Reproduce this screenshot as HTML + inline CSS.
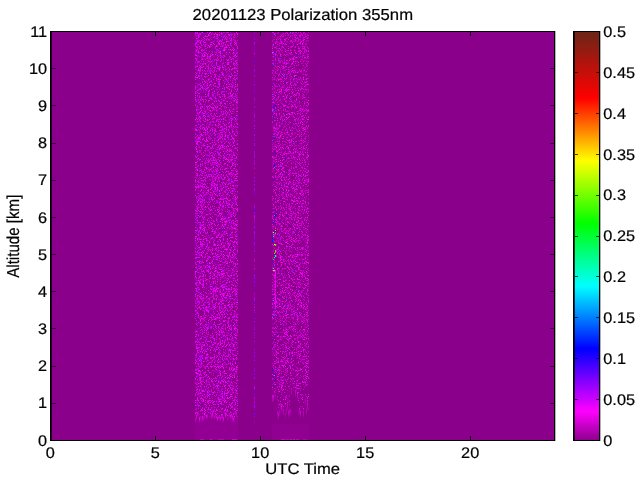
<!DOCTYPE html>
<html>
<head>
<meta charset="utf-8">
<title>20201123 Polarization 355nm</title>
<style>
html,body{margin:0;padding:0;background:#fff;}
body{width:640px;height:480px;overflow:hidden;font-family:"Liberation Sans",sans-serif;}
svg{display:block;}
</style>
</head>
<body>
<svg width="640" height="480" viewBox="0 0 640 480">
<rect width="640" height="480" fill="#fff"/>
<defs><linearGradient id="cb" x1="0" y1="0" x2="0" y2="1"><stop offset="0.00%" stop-color="#692618"/><stop offset="16.40%" stop-color="#ff0000"/><stop offset="31.68%" stop-color="#ffff00"/><stop offset="46.96%" stop-color="#00ff00"/><stop offset="62.24%" stop-color="#00ffff"/><stop offset="77.52%" stop-color="#0000ff"/><stop offset="92.80%" stop-color="#ff00ff"/><stop offset="100.00%" stop-color="#8b008b"/></linearGradient></defs>
<rect x="50" y="31" width="505" height="410" fill="#8b008b"/>
<defs><linearGradient id="sm" x1="0" y1="0" x2="0" y2="1"><stop offset="0" stop-color="#e000e8" stop-opacity="0.75"/><stop offset="1" stop-color="#e000e8" stop-opacity="0"/></linearGradient></defs>
<rect x="195" y="420" width="43" height="20" fill="#a000a4" opacity="0.35"/>
<rect x="272" y="424" width="37" height="16" fill="#a000a4" opacity="0.25"/>
<g transform="translate(0,0.5)" stroke-width="1" fill="none" shape-rendering="crispEdges"><path stroke="#0005ff" d="M274 52h1m0 53h1m-1 48h1m-4 85h1m25 75h1m-27 33h1m-1 22h1"/><path stroke="#0019ff" d="M282 75h1m-10 31h1m11 53h1m-12 5h1m-2 58h1m-2 18h1m-1 130h1"/><path stroke="#002dff" d="M297 55h1m-26 40h1m18 4h1m-19 38h1m-1 3h1m1 71h1m-2 5h1m-3 25h1m12 71h1m-5 14h1"/><path stroke="#0041ff" d="M275 99h1m-2 22h1m17 4h1m-1 190h1m-21 23h1"/><path stroke="#0055ff" d="M279 61h1m13 172h1m-21 7h1m19 30h1m-14 5h1m18 15h1m-26 18h1"/><path stroke="#0069ff" d="M273 45h1m10 29h1m-11 37h1m18 32h1m-7 164h1"/><path stroke="#007dff" d="M274 34h1m-2 30h1m10 51h1m-13 1h1m1 20h1m6 30h1m-1 19h1m-8 80h1m0 49h1m-1 70h1"/><path stroke="#0092ff" d="M290 32h1m-19 78h1m-1 207h1"/><path stroke="#00a6ff" d="M294 76h1m-21 91h1m-2 133h1"/><path stroke="#00baff" d="M272 52h1m1 163h1m-2 19h1m0 141h1"/><path stroke="#00e2ff" d="M273 236h1"/><path stroke="#00f6ff" d="M275 255h1"/><path stroke="#00ff04" d="M275 245h1"/><path stroke="#00ff68" d="M275 233h1"/><path stroke="#00ff7c" d="M275 256h1"/><path stroke="#00ff90" d="M275 250h1"/><path stroke="#00ffb8" d="M274 257h1"/><path stroke="#00ffcc" d="M273 268h1"/><path stroke="#0f00ff" d="M274 165h1m0 50h1m-1 8h1m-1 8h1m21 32h1m-8 11h1m-16 105h1"/><path stroke="#2300ff" d="M288 357h1"/><path stroke="#24ff00" d="M275 252h1m-3 7h1"/><path stroke="#3700ff" d="M274 57h1m9 26h1m-12 24h1m0 1h1m-1 124h1m0 26h1m-4 5h1m3 42h1m-5 5h1m4 24h1m11 30h1m-16 17h1"/><path stroke="#4b00ff" d="M254 58h1m-1 46h1m-1 32h1m-1 10h1m31 28h1m-33 36h1m-1 1h1m-1 29h1m17 56h1m-19 7h1m-1 13h1m21 57h1m-23 2h1m-1 17h1m35 5h1m-37 18h1"/><path stroke="#4cff00" d="M275 244h1m-2 26h1"/><path stroke="#5f00ff" d="M254 36h1m-1 27h1m18 19h1m-20 8h1m-1 3h1m19 12h1m-3 7h1m-19 9h1m-1 9h1m17 48h1m-19 4h1m-1 42h1m-1 6h1m-1 49h1m-1 5h1m-1 6h1m-1 25h1m18 10h1m-20 17h1m19 29h1m-3 6h1m-19 2h1m-1 14h1m-1 11h1m-1 9h1"/><path stroke="#60ff00" d="M275 230h1"/><path stroke="#7300ff" d="M254 48h1m-1 13h1m-1 11h1m-1 10h1m-1 3h1m-1 34h1m-1 34h1m-1 25h1m-1 14h1m-1 37h1m-1 8h1m-1 4h1m-1 13h1m-1 20h1m-1 22h1m-1 6h1m-1 6h1m-1 26h1m-1 6h1m-1 10h1m-1 7h1m-1 6h1m-1 1h1"/><path stroke="#8700ff" d="M254 32h1m-52 1h2m17 2h1m-1 2h1m31 1h1m-55 2h1m31 0h1m-19 1h1m-20 1h1m16 2h1m41 0h1m-1 3h1m-34 1h1m14 1h1m-15 1h1m11 0h1m-21 1h1m12 1h1m-26 1h1m-5 3h1m23 1h1m3 3h1m-15 1h1m8 0h1m-27 2h1m22 1h1m-20 4h1m27 0h1m-32 4h1m7 2h1m23 0h1m-29 3h1m15 0h1m-17 2h1m27 0h1m-30 1h1m27 0h1m-30 1h1m23 1h1m-26 4h1m23 0h1m-25 3h1m19 0h1m-17 1h1m-2 1h1m3 1h1m8 0h1m9 0h1m2 0h1m27 0h1m-58 2h1m2 2h1m11 0h1m-17 7h1m8 2h1m8 3h1m-17 2h1m3 3h1m3 0h1m-4 1h1m-4 2h1m32 0h1m2 1h1m-17 1h1m15 1h1m-37 1h1m-5 2h1m2 2h1m-4 4h1m35 0h1m-21 6h1m-10 1h1m15 0h1m8 1h1m-34 2h1m3 1h1m-5 1h1m34 0h1m-9 4h1m-19 2h1m11 5h1m-22 6h1m8 6h1m15 0h1m13 3h1m19 1h1m-59 1h1m4 2h1m18 0h1m-15 8h1m10 2h1m14 0h1m-11 1h1m31 0h1m-36 3h1m-21 1h1m-3 4h1m20 0h1m7 1h1m-10 2h1m0 2h1m-21 1h1m6 0h1m48 0h1m-46 1h1m13 0h1m-17 2h2m-6 1h1m-5 1h1m25 0h1m-23 1h2m11 0h1m10 3h1m-31 2h1m30 0h1m25 2h1m-49 2h1m13 1h1m5 1h1m-3 2h1m-25 1h1m16 0h1m14 1h1m-36 3h1m56 0h1m-38 1h1m1 1h1m9 2h2m23 0h1m-56 5h1m1 0h1m20 2h1m-24 2h1m18 0h1m-23 1h1m81 1h1m-50 1h1m-20 1h1m12 1h1m-18 4h1m-5 6h1m51 1h1m-57 1h1m-4 1h1m31 1h1m5 0h1m-36 1h1m37 2h1m-41 5h1m37 2h1m-21 2h1m-7 1h1m7 0h1m-19 1h1m22 0h1m-14 2h1m-9 1h1m21 1h1m-26 2h1m1 1h1m33 0h1m-37 3h1m56 2h1m-23 1h1m21 5h1m-1 2h1m-28 1h1m-18 1h1m1 0h1m7 0h1m-24 1h2m-4 5h1m41 1h1m-13 2h1m4 3h1m6 0h1m-13 2h1m-28 1h1m7 1h1m13 1h1m-13 2h1m13 0h1m-11 1h1m-7 4h1m19 1h1m-17 1h1m-15 2h1m9 8h1m1 2h1m45 0h1m-59 1h1m9 2h1m5 3h1m-12 2h1m0 3h1m-4 1h1m23 1h1m-28 2h1m9 0h1m5 3h1m-3 2h1m24 1h1m-21 2h1m21 0h1m-37 2h1m16 1h1m10 0h1m-29 2h1m29 0h1m22 0h1m-57 1h1m20 1h1m-21 2h1m-2 2h1m1 1h1m0 1h1m20 0h1m8 1h1m-35 6h1m21 5h1m34 0h1m-1 1h1m-58 2h1m23 2h1m-1 3h1m3 2h1m-27 2h1m36 2h1m-31 1h1m-1 2h1m14 1h1m-11 1h1m8 0h1m-24 3h1m11 0h1m10 0h1m-19 1h1m8 1h1m71 0h1m-30 2h1m-39 1h1m20 0h1m-42 2h1m1 2h1m29 0h1m5 0h1m-32 3h1m-4 1h1m2 5h1m6 2h1"/><path stroke="#9b00ff" d="M197 35h1m25 1h1m6 0h1m-33 3h1m55 0h1m-38 1h1m-21 4h1m92 3h1m-75 3h1m6 1h1m-24 1h1m53 0h1m-47 1h1m-12 2h1m39 0h1m-1 1h1m-29 1h1m11 0h1m-25 4h1m3 0h1m-5 3h1m16 1h1m39 1h1m-39 4h1m37 0h1m-46 2h1m-9 2h1m35 0h1m-16 1h1m6 0h1m-17 9h1m-18 3h1m8 0h1m-3 1h1m1 4h1m9 3h1m19 0h1m-8 1h1m-13 2h1m6 0h1m30 1h1m-60 1h3m34 0h1m-36 11h1m32 1h1m-2 8h1m1 1h1m-19 3h1m40 2h1m-30 7h1m-8 3h1m-6 1h1m-9 8h1m0 1h1m4 1h1m0 1h1m6 2h1m34 1h1m-56 1h1m25 0h1m-19 3h1m27 0h1m18 1h1m-52 3h1m-3 2h1m33 0h1m-34 4h1m27 2h1m-18 5h1m-1 1h1m85 5h1m-105 4h1m36 0h1m-33 2h1m53 4h1m-33 1h1m66 4h1m-93 6h1m11 1h1m23 0h1m20 4h1m46 1h1m-79 2h1m-12 3h1m-1 2h1m-14 1h1m28 0h1m25 0h1m-31 3h1m-26 1h1m-5 2h1m83 0h1m-71 1h1m-5 3h1m-6 1h1m4 0h1m24 0h1m-16 4h1m-11 5h1m48 0h1m-57 1h1m55 4h1m-29 1h1m-10 3h1m10 0h1m-19 1h1m43 1h1m-59 1h1m10 1h1m46 0h1m-56 2h1m21 0h1m9 2h1m-34 5h1m16 2h1m17 0h1m-34 2h1m11 1h1m89 0h1m-102 1h1m23 3h1m-27 1h1m-4 1h1m29 2h1m-27 1h1m13 0h1m39 7h1m-52 6h1m7 0h1m0 1h1m11 8h1m-26 1h1m3 2h1m17 0h1m7 3h1m-18 9h1m41 6h1m-20 4h1m18 5h1m-56 1h1m3 4h1m50 1h1m-57 1h2m23 0h1m30 0h1m-1 1h1m-32 3h1m10 1h1m-15 1h1m-25 1h1m57 0h1m-23 1h1m-8 1h1m-28 5h1m24 4h1m-6 2h1m-13 1h1m47 3h1m-60 2h1m4 1h1m-1 1h1m12 1h1m-7 1h1m19 0h1m-8 1h1m3 0h1m10 1h1m-39 1h1m20 4h1m-1 3h1m35 0h1m-37 2h1m-16 2h1m-8 2h1m11 8h1m-9 3h1m13 0h1m-12 4h1m-6 4h1m8 0h1m1 0h1m9 5h1m-9 2h1m-14 1h1m17 1h1m0 2h1m36 1h1m-35 2h1m-10 1h1m20 7h1m21 7h1"/><path stroke="#9e009e" d="M199 32h1m77 0h1m5 0h1m7 0h1m-60 1h1m65 0h1m7 0h1m-98 1h1m23 0h1m46 0h1m18 0h1m-104 1h1m77 0h1m-80 2h1m40 0h1m-31 1h1m77 0h1m10 0h1m-84 1h1m-11 1h1m7 0h1m16 0h2m44 0h1m-70 1h1m11 0h1m58 0h1m17 0h1m11 0h1m-21 1h1m2 0h1m-86 1h1m3 0h1m1 0h1m98 0h1m-33 1h1m-44 1h1m20 0h1m27 0h1m-83 1h1m12 0h1m9 0h1m60 0h1m2 0h1m8 0h1m-61 1h1m-8 1h1m56 0h1m14 0h1m-92 1h2m8 0h1m72 0h2m-98 1h1m2 0h1m11 0h1m6 0h1m34 0h1m-44 1h1m25 0h1m46 0h1m15 0h1m1 0h1m-107 1h1m83 0h1m6 0h1m-15 1h1m21 0h1m-79 1h1m84 0h1m-5 1h1m-86 1h1m40 0h1m19 0h2m-80 1h2m26 0h1m63 0h1m2 0h1m-56 1h1m60 0h1m2 0h1m4 0h1m-103 1h1m76 0h1m19 0h1m-96 1h1m89 0h2m-22 1h1m18 0h1m-92 1h1m20 0h1m58 0h1m-4 1h1m22 0h1m2 0h1m1 0h1m-75 1h1m19 0h1m20 0h1m16 0h1m-93 1h1m9 0h1m26 0h1m38 0h1m11 0h1m-54 1h1m40 0h1m17 0h1m-78 1h1m7 0h1m71 0h1m-13 1h1m7 0h1m10 0h1m3 0h1m-97 1h1m2 0h1m4 1h1m15 0h1m58 0h1m12 0h1m-33 1h1m8 0h1m-1 1h1m8 0h1m-4 1h1m-63 1h1m43 0h1m28 0h1m5 1h1m-89 1h1m57 0h2m-58 1h1m2 0h1m64 0h1m-72 1h1m70 0h1m-58 1h1m3 0h1m38 0h1m11 0h1m-88 1h1m12 0h1m4 0h1m54 0h1m-50 1h1m28 0h1m45 0h1m7 0h1m-85 1h1m49 0h1m7 0h1m7 0h1m-93 1h1m32 0h1m44 0h1m8 1h1m7 0h1m-82 1h1m73 0h1m-74 2h1m59 0h1m-69 1h1m6 0h1m7 0h2m51 0h1m10 0h1m22 0h1m-93 1h1m5 0h1m68 0h1m7 0h1m-71 1h1m4 0h1m56 0h1m-86 1h1m48 0h1m-55 1h1m23 0h1m74 0h1m-104 1h1m29 0h1m47 0h1m28 0h1m-78 1h1m65 0h1m-56 1h1m41 0h1m18 0h1m-95 1h1m32 0h1m43 0h1m16 0h1m-45 1h1m33 0h1m5 0h1m12 0h1m-111 1h1m17 1h1m73 0h1m12 0h1m-78 1h1m56 0h1m24 0h1m-86 1h2m11 0h1m-29 1h1m7 0h1m62 0h1m17 0h1m-70 1h1m3 0h1m41 0h1m27 0h1m-74 1h1m46 0h1m31 0h1m-108 1h1m72 0h1m7 0h1m22 0h1m-91 1h1m5 0h1m-20 1h1m26 0h1m78 1h1m-104 1h1m1 0h1m84 0h1m3 0h1m9 0h1m-109 1h1m10 0h1m45 0h1m-49 1h1m85 0h1m3 0h1m-101 1h1m20 0h1m4 0h1m6 0h1m49 0h1m1 0h1m8 0h1m15 0h1m-111 1h1m84 0h1m25 0h1m-109 1h1m21 0h1m83 0h1m-31 1h1m7 0h1m-86 1h1m12 2h1m4 0h1m-3 1h1m5 0h1m1 0h1m50 0h1m30 0h1m-17 1h1m1 0h1m-69 1h1m-21 1h1m8 0h1m3 0h1m6 0h1m3 0h1m10 0h1m66 0h1m-107 1h1m5 0h1m20 0h1m8 0h1m40 0h1m31 0h1m-91 2h1m18 0h1m41 0h1m-75 1h1m32 0h1m-33 1h1m80 0h1m-78 1h1m19 0h1m-19 1h1m10 1h1m-26 1h1m16 0h1m39 0h1m29 0h1m-2 1h1m10 0h1m-86 1h1m7 0h1m11 0h1m56 0h1m9 0h1m-77 1h1m9 0h1m55 0h1m17 0h1m-96 1h1m22 0h2m42 0h1m-67 1h1m4 0h1m59 0h1m-67 1h1m67 0h1m20 0h1m-83 1h2m57 1h1m4 0h1m18 0h1m-65 1h1m47 0h1m-56 1h2m5 0h1m47 0h1m-73 1h1m-17 1h1m25 0h1m74 0h1m5 0h1m-85 1h1m57 0h1m5 0h1m14 0h1m-4 1h1m5 0h1m-18 1h1m7 0h1m5 0h1m-73 1h1m4 0h1m52 0h1m21 0h1m-84 1h1m55 0h1m3 0h1m-86 1h1m1 0h1m91 0h1m-74 1h1m68 0h1m-68 1h1m16 0h1m60 0h1m5 0h1m-92 1h1m71 0h1m-90 1h1m98 0h1m11 0h1m-103 1h1m16 0h1m1 0h1m71 0h1m-79 1h1m5 0h1m5 0h1m-12 1h1m10 0h1m63 0h1m8 0h1m-105 1h1m12 0h1m9 0h1m14 0h1m42 0h1m21 0h1m-85 1h1m62 0h1m8 0h1m-96 1h1m6 0h1m4 0h1m-7 1h1m8 0h1m64 0h1m11 0h1m20 0h1m-10 1h1m4 0h1m-104 1h1m79 0h1m1 0h1m16 0h1m-102 1h1m21 0h1m68 0h1m-78 1h1m11 0h1m46 1h1m2 0h1m2 0h1m5 0h1m12 1h2m-90 1h1m21 0h1m57 0h2m-91 1h1m95 0h1m3 0h1m-106 1h1m91 0h1m16 0h2m-80 1h1m56 0h1m-11 1h1m3 0h1m15 0h1m1 0h1m-23 1h1m23 0h2m-95 1h2m4 0h1m68 0h1m11 0h1m-72 1h1m60 0h1m-64 1h1m2 0h1m51 0h1m6 0h1m9 0h1m-96 1h1m9 0h1m67 0h1m-60 1h1m65 0h1m4 0h1m11 0h1m7 0h1m2 0h1m-107 1h1m78 0h1m12 1h1m9 0h1m-108 1h1m8 1h1m18 1h1m11 0h1m68 0h1m-92 1h1m56 0h1m10 0h1m6 0h1m17 0h1m-100 1h1m20 0h1m52 0h1m1 0h1m9 0h1m2 0h1m-23 2h1m-72 1h1m22 0h1m56 0h1m-84 1h1m11 0h1m70 0h1m2 0h1m-58 1h1m3 0h1m38 0h1m-53 1h1m11 0h1m41 0h2m19 0h1m-99 1h1m23 0h1m76 0h1m-75 1h1m46 0h1m11 0h1m6 1h1m8 0h1m-100 1h2m24 0h1m6 0h1m18 0h1m37 0h1m1 0h1m1 0h1m-61 1h1m52 0h1m1 0h1m16 0h1m-96 1h1m16 0h1m68 0h1m-78 1h1m63 0h1m-85 1h1m2 0h1m89 0h1m-7 1h1m2 0h1m2 0h1m9 0h1m-75 1h1m44 0h1m27 0h1m-93 1h1m14 0h1m60 0h1m-68 2h1m-15 1h1m76 0h1m9 0h1m-100 1h1m80 0h1m4 0h1m-48 1h1m65 0h1m-87 1h1m-1 1h2m64 0h1m17 0h1m-79 1h1m3 0h1m74 0h1m-77 1h1m65 0h1m1 0h1m-86 1h1m7 0h1m67 0h1m12 0h1m-95 1h1m80 0h1m7 0h1m11 0h1m-69 1h1m44 0h1m-78 1h1m2 0h1m30 0h1m17 0h1m44 0h2m-94 1h1m20 0h1m74 0h1m3 0h1m-82 1h2m9 0h1m44 0h1m20 0h1m-78 1h1m0 1h1m47 0h1m13 0h1m15 0h1m-100 1h1m20 0h1m7 0h1m65 0h1m4 0h1m-103 1h1m20 0h1m-4 1h1m6 0h1m49 0h1m-64 1h1m10 0h1m2 0h1m23 0h1m19 0h1m7 1h1m-70 1h1m60 0h1m21 0h1m-77 1h1m86 0h1m-104 1h1m3 0h1m10 0h2m14 0h1m-12 1h1m11 0h1m36 0h1m12 0h1m19 0h1m-31 1h1m1 0h1m29 0h1m-111 1h1m6 0h1m68 1h1m13 0h1m16 0h1m2 0h1m-114 1h1m9 0h1m12 0h1m64 0h1m1 0h1m8 0h2m10 0h1m-84 1h1m54 0h1m10 0h1m-72 1h1m53 0h1m34 0h1m-71 1h1m-19 1h2m10 0h1m49 0h1m-7 1h1m24 0h1m-66 1h1m59 0h2m5 0h1m-99 1h1m77 0h1m-85 1h1m3 0h1m14 0h1m-15 1h1m20 0h1m64 0h1m13 0h1m-24 1h1m23 0h1m-109 1h1m8 0h2m67 0h1m18 0h1m-91 1h1m15 0h1m12 0h1m61 0h1m-59 1h1m-32 1h1m26 0h1m-37 1h1m18 0h1m58 0h2m-69 1h1m1 0h1m74 0h2m22 0h1m-111 1h1m15 0h1m13 0h1m47 0h1m3 0h1m1 0h1m8 0h1m-88 1h1m32 0h1m-35 1h1m102 1h1m-103 1h2m30 1h1m62 0h2m-90 1h1m4 0h1m66 0h2m-80 1h1m89 0h1m-92 1h1m72 0h1m9 0h1m17 0h1m2 0h1m-75 1h1m46 0h1m7 0h1m-66 1h1m8 0h1m63 0h1m-87 1h1m13 0h1m53 1h1m11 0h1m4 0h1m4 0h1m-6 1h1m-91 1h1m5 0h1m80 0h1m8 0h1m-16 1h1m18 0h1m-112 1h1m6 0h1m15 0h1m-18 1h1m28 0h1m46 0h1m13 0h1m10 0h1m5 0h1m-98 1h1m3 0h1m3 0h1m9 0h1m48 0h1m19 0h1m-45 1h1m23 0h1m-74 1h1m86 0h1m7 0h1m-15 1h1m-88 1h1m24 0h1m2 0h1m61 0h1m-80 1h1m7 0h1m5 0h1m5 0h1m53 0h1m12 0h1m1 0h1m-86 1h1m8 0h1m4 0h1m2 0h1m52 0h1m11 0h1m6 0h1m-96 2h1m11 0h1m8 0h1m52 0h1m22 0h1m-105 1h2m76 0h1m-61 1h1m77 0h1m-22 1h1m1 0h1m7 1h1m1 0h1m-76 1h1m69 0h1m20 0h1m-97 1h1m11 0h1m8 0h1m6 0h1m-7 1h1m46 0h1m23 0h1m-80 1h1m62 0h1m-67 1h1m57 0h1m16 0h1m3 0h1m4 0h1m-24 1h1m3 0h1m1 0h1m8 0h1m1 0h1m-89 1h1m14 0h1m54 0h1m19 0h1m8 0h1m-5 2h1m-70 1h1m70 0h2m-91 1h1m4 0h1m10 0h1m63 0h2m-93 1h1m21 0h1m65 0h1m-12 1h1m-68 1h1m11 0h1m-24 1h1m1 0h1m10 0h1m6 0h1m66 0h1m15 0h1m-91 1h1m67 0h2m-87 1h1m5 0h1m4 0h1m20 0h1m-32 2h1m1 0h1m17 0h1m64 0h1m-90 1h1m5 0h1m84 0h1m7 0h1m4 0h1m-104 1h1m4 0h1m18 0h1m53 0h1m2 0h2m11 0h1m6 0h1m-100 1h1m103 0h1m-83 1h1m8 0h1m21 0h1m35 0h1m10 0h1m-107 1h1m83 0h1m-82 1h1m3 0h1m14 0h1m6 0h1m69 0h1m7 0h1m-93 1h1m6 0h1m90 0h1m-20 1h1m-1 1h1m-95 1h1m6 0h1m18 0h1m83 0h1m-5 1h2m3 0h1m-32 1h1m6 0h1m6 0h1m-5 1h1m15 0h1m1 0h1m3 0h1m-97 1h1m3 0h1m-20 1h1m35 0h1m57 0h1m14 0h1m-94 1h1m59 0h1m3 0h1m5 0h1m19 0h1m5 0h1m-81 1h1m49 1h1m4 0h1m-82 1h1m16 0h1m-6 2h1m9 0h1m-14 1h1m23 0h1m46 0h1m5 0h1m6 0h1m6 0h1m-70 1h2m50 0h1m1 0h1m5 0h1m-82 1h1m82 0h1m-74 1h1m8 0h2m56 0h1m2 0h1m6 0h1m1 0h1m2 0h1m-86 1h1m55 0h1m1 0h1m16 0h1m-97 1h1m11 0h1m83 0h1m8 0h1m-73 1h1m62 0h1m-96 1h1m96 0h1m-63 1h1m43 1h1m15 0h1m2 0h1m-77 1h1m7 0h1m45 0h1m3 0h1m26 0h1m-108 1h1m1 0h1m1 0h1m21 0h1m7 0h1m42 0h1m5 0h1m9 0h1m-61 1h1m49 0h2m-82 1h1m29 0h1m65 0h1m-100 1h1m33 1h1m45 0h1m23 0h1m-104 1h1m27 0h1m52 0h1m7 0h1m-92 1h1m80 0h1m14 0h1m-11 1h1m11 1h1m-102 2h1m28 0h1m2 0h1m-25 1h1m17 0h1m1 0h1m67 0h1m8 0h1m1 0h1m-97 1h1m84 0h1m-58 1h2m46 0h1m16 0h1m-5 2h1m4 0h1m7 0h1m-114 1h1m9 0h1m1 0h1m28 0h1m40 0h1m5 0h1m-50 1h2m48 0h1m16 0h1m-28 1h1m7 0h1m20 0h1m-29 1h1m3 0h1m17 0h1m-44 2h1m20 0h1m20 0h1m7 0h1m-89 1h1m9 0h2m4 0h1m64 0h1m6 0h1m-107 1h1m73 0h1m6 0h1m10 0h1m-89 1h1m13 0h1m3 0h1m9 0h1m42 0h1m22 0h1m-100 1h1m5 0h1m18 0h1m31 0h1m32 0h1m5 0h1m10 0h1m-108 1h1m12 0h1m79 0h1m2 0h1m3 0h1m2 0h1m-29 1h1m8 0h1m17 0h1m4 0h1m-76 1h2m58 0h1m8 0h1m-17 1h1m1 0h1m-60 1h1m1 0h1m52 0h1m7 0h2m7 0h2m8 0h1m-110 1h1m84 0h1m19 0h1m-101 1h1m7 0h1m7 0h1m77 0h1m5 0h2m-99 1h1m87 0h1m-100 1h1m8 0h1m3 0h1m72 0h1m21 0h1m4 1h1m-96 1h1m12 0h1m46 0h2m-61 1h1m7 0h1m2 0h1m63 0h1m10 0h1m-69 1h1m75 0h1m-12 1h1m-82 1h1m12 0h1m44 0h1m-47 1h1m0 1h1m54 0h1m11 0h1m2 0h1m-13 1h1m8 0h2m-25 1h1m14 0h1m9 0h1m-76 1h1m13 0h1m60 0h1m-74 1h1m3 0h1m-1 1h1m46 0h1m-79 1h1m27 0h1m51 0h1m-72 1h1m3 0h1m71 0h1m-4 1h1m5 0h2m-93 1h1m24 0h1m71 1h1m8 0h1m-96 1h2m72 0h1m11 0h1m-87 1h1m11 0h2m62 0h1m2 0h1m6 0h1m1 0h1m-89 1h1m23 0h1m54 0h1m7 0h2m-23 1h1m3 0h1m17 0h1m-93 1h1m3 0h1m7 0h1m19 0h1m59 0h1m-86 1h1m24 0h1m40 0h2m10 0h1m5 0h1m1 0h1m-84 1h1m12 0h1m8 0h1m41 0h1m3 0h1m12 0h1m-75 1h1m56 0h1m16 0h1m2 0h1m11 0h1m-78 1h2m48 0h1m14 0h1m-12 1h1m-12 1h1m16 0h1m-60 1h1m41 0h1m16 0h1m-18 1h1m7 0h1m12 0h1m-95 1h1m11 0h1m60 0h2m19 0h1m-84 1h1m24 0h1m37 0h1m5 0h1m7 0h1m-15 1h1m21 0h1m-100 1h1m5 0h1m83 0h1m8 0h1m-69 1h1m24 0h1m-29 1h1m45 0h2m30 0h1m-87 1h1m60 0h1m4 0h1m-71 1h1m69 0h1m20 0h1m-99 1h1m17 0h1m58 0h1m20 0h1m-84 1h1m3 0h1m59 0h1m15 0h1m-70 1h1m51 0h1m16 0h1m-98 1h1m3 0h1m70 0h1m1 0h1m19 0h1m-89 1h1m20 0h1m44 0h1m1 0h1m4 0h1m20 0h1m-98 1h1m42 0h1m27 0h1m4 0h1m19 0h2m-100 1h1m10 0h1m64 0h1m21 0h1m-84 1h1m56 0h1m16 0h1m-90 1h1m13 0h1m30 0h1m23 0h1m2 0h1m4 0h1m11 0h1m-99 1h1m10 0h1m67 0h1m6 0h1m3 0h1m7 0h2m6 0h1m-83 1h1m54 0h1m3 0h1m5 0h2m7 0h2m6 0h1m-105 1h1m21 0h1m10 0h1m41 0h1m1 0h1m3 0h1m5 0h2m-94 1h3m5 0h1m7 0h1m12 0h1m2 0h1m6 0h1m40 0h1m7 0h1m2 0h1m11 0h1m2 0h1m-91 1h1m1 0h1m12 0h2m55 0h1m2 0h1m11 0h1m2 0h1m-104 1h1m3 0h1m2 0h1m2 0h3m8 0h1m3 0h1m2 0h1m2 0h1m46 0h1m6 0h1m-90 1h1m3 0h1m5 0h1m3 0h1m3 0h1m1 0h1m1 0h2m2 0h1m7 0h1m3 0h1m2 0h1m40 0h1m-78 1h1m1 0h1m23 0h1m2 0h1m3 0h1m2 0h1m16 0h1m-54 1h2m14 0h1m2 0h1m11 0h1m-38 1h1m3 0h1m23 0h1m9 0h1"/><path stroke="#af00ff" d="M230 32h1m-6 2h1m4 0h2m63 2h1m-82 1h1m5 4h1m10 1h1m50 2h1m-79 1h1m-1 4h1m-10 2h1m25 5h1m-8 4h1m-2 1h1m19 1h1m39 0h1m-52 2h1m-10 1h1m21 3h1m-41 1h1m12 0h1m1 2h1m-3 2h1m45 2h1m-18 2h1m-12 3h1m-3 1h1m69 0h1m-78 1h1m-23 3h1m8 1h1m27 0h1m67 0h1m-102 2h1m18 3h1m5 0h1m-16 2h1m-2 3h1m9 5h1m-14 1h1m19 2h1m-29 2h1m56 0h1m-53 1h1m-6 2h1m23 3h1m3 0h1m-16 1h1m-9 3h1m21 1h1m60 4h1m-76 2h1m70 1h1m-70 1h1m-16 2h1m4 0h1m2 2h1m25 0h1m-20 2h1m-6 1h1m-13 1h1m14 0h1m43 1h1m-28 1h1m-28 3h1m27 0h1m-33 1h1m12 0h1m4 0h1m39 4h1m-59 1h1m1 0h1m36 3h1m-19 2h1m36 5h1m-41 1h1m11 0h1m57 2h1m-77 1h1m6 0h1m7 0h1m-8 2h1m2 1h1m8 0h1m-34 3h1m19 3h1m-15 4h1m13 0h1m0 1h1m6 2h1m-16 2h1m11 0h1m7 1h1m-32 4h2m30 1h1m24 2h1m-41 2h1m-11 1h1m83 0h1m-35 2h1m-1 1h1m-41 1h1m18 0h1m-37 2h1m37 11h1m-7 6h1m0 3h1m23 2h1m-60 1h1m22 0h1m6 1h1m60 0h1m-58 2h2m-35 1h1m-1 2h1m14 0h1m9 0h1m-26 3h1m27 1h1m29 0h1m17 0h1m-55 1h1m79 0h1m-102 2h1m2 0h1m-4 1h1m3 1h1m12 1h1m10 1h1m-27 4h1m79 0h1m-81 1h1m102 0h1m-108 4h1m1 0h1m9 1h1m29 1h1m-31 1h1m26 0h1m-33 1h1m-3 6h1m17 2h1m-11 2h1m6 3h1m10 0h1m-10 1h1m-14 5h1m5 1h1m25 1h1m-33 1h1m69 1h1m-53 2h1m-9 2h1m3 1h1m35 1h1m-29 3h1m27 0h1m-58 2h1m27 0h1m28 1h1m-60 3h1m2 1h1m10 1h1m21 7h1m-2 2h1m59 2h1m-95 1h1m57 1h1m-60 1h1m0 3h1m57 1h1m-43 1h1m16 1h1m55 0h1m-82 2h1m5 0h1m-14 1h1m29 0h1m-33 2h1m1 5h1m38 1h1m-19 1h1m82 0h1m-82 5h1m-1 1h1m-17 1h1m30 0h1m-6 1h1m-23 1h1m5 2h1m16 1h1m1 1h1m38 1h1m-71 2h1m10 2h1m9 0h1m-24 3h1m12 3h1m-11 2h1m0 5h1m22 0h1m26 0h1m-51 2h1m-10 4h1m58 1h1m-56 3h1m1 0h1m5 0h1m46 1h1m-24 5h1m-18 6h1m-18 3h1m9 1h1m11 0h1m4 0h1m-10 3h1m56 0h1m8 1h1m-68 1h1m-13 1h1m25 0h1m-12 2h1m36 2h1m-36 1h2m4 1h1m-7 4h1m34 3h1m-39 1h1m7 0h1m0 2h1m-4 1h1m-3 3h1m33 0h1m-38 2h1m-22 2h1m57 2h1m-46 2h1m44 5h1m-23 3h1"/><path stroke="#b200b2" d="M196 32h1m90 0h1m-82 1h1m19 0h1m9 0h1m52 0h1m4 0h1m-61 1h1m38 0h1m7 0h1m2 0h1m17 0h1m-85 1h1m5 0h2m57 0h1m3 0h1m3 0h2m12 0h1m1 0h1m-75 1h1m44 0h2m-69 1h1m5 0h2m6 0h1m48 0h1m3 0h1m1 0h1m6 0h1m6 0h1m13 0h1m-94 1h1m8 0h1m1 0h1m50 0h1m7 0h1m1 0h1m4 0h1m5 0h1m3 0h2m2 0h1m1 0h1m-113 1h1m21 0h1m-11 1h1m5 0h1m6 0h1m4 0h1m49 0h1m3 0h1m12 0h1m2 0h1m3 0h1m1 0h1m3 0h3m-108 1h1m10 0h1m16 0h1m3 0h1m38 0h1m1 0h1m2 0h1m8 0h1m2 0h1m5 0h1m2 0h1m7 0h1m1 0h1m-106 1h1m25 0h1m46 0h1m10 0h1m2 0h1m-69 1h1m13 0h1m36 0h1m19 0h1m11 0h1m-83 1h1m48 0h1m11 0h1m11 0h1m6 0h1m-102 1h1m4 0h1m9 0h1m3 0h1m8 0h1m4 0h1m36 0h1m28 0h1m-91 1h1m19 0h1m73 0h1m-105 1h1m8 0h1m21 0h2m38 0h1m3 0h1m4 0h2m11 0h1m5 0h1m1 0h1m-106 1h1m7 0h1m17 0h1m53 0h1m-83 1h2m29 0h1m2 0h1m60 0h1m-89 1h1m1 0h1m24 0h2m49 0h1m10 0h1m6 0h1m6 0h1m-90 1h1m56 0h1m-79 1h1m18 0h1m21 0h1m39 0h1m2 0h1m6 0h1m1 0h1m1 0h1m13 0h3m-102 1h1m16 0h1m2 0h1m4 0h1m3 0h1m44 0h2m18 0h1m-72 1h1m57 0h1m4 0h1m8 0h1m-100 1h1m17 0h1m68 0h1m6 0h1m6 0h1m1 0h1m2 0h1m-109 1h1m8 0h1m5 0h1m7 0h1m2 0h1m46 0h1m8 0h1m4 0h1m14 0h2m1 0h1m-106 1h1m1 0h1m6 0h1m20 0h1m43 0h1m1 0h1m23 0h1m-87 1h1m5 0h1m9 0h1m1 0h1m5 0h1m42 0h1m21 0h1m1 0h1m1 0h1m-84 1h1m3 0h1m-28 1h1m3 0h1m3 0h1m9 0h1m4 0h1m13 0h1m35 0h1m2 0h1m29 0h1m-112 1h1m9 0h2m9 0h1m79 0h1m-98 1h1m11 0h1m17 0h1m48 0h1m3 0h1m2 0h1m6 0h1m15 0h1m-112 1h1m3 0h1m4 0h1m13 0h1m56 0h1m10 0h2m-64 1h1m66 0h1m4 0h1m-104 1h1m1 0h1m24 0h1m7 0h1m43 0h2m3 0h1m-76 1h1m1 0h1m8 0h1m21 0h1m53 0h1m-55 1h1m35 0h1m15 0h1m14 0h1m-107 1h1m8 0h1m3 0h2m3 0h1m5 0h1m14 0h1m42 0h1m3 0h1m-89 1h1m21 0h1m56 0h1m2 0h1m3 0h1m6 0h1m1 0h1m3 0h1m3 0h1m1 0h1m1 0h2m-108 1h1m10 0h2m3 0h1m14 0h1m2 0h1m46 0h1m5 0h1m11 0h1m6 0h1m-101 1h1m18 0h1m3 0h2m26 0h1m18 0h1m18 0h1m4 0h2m4 0h1m-109 1h1m1 0h1m32 0h1m56 0h1m3 0h1m4 0h1m1 0h1m6 0h1m-95 1h1m62 0h3m4 0h1m3 0h1m-79 1h1m11 0h2m6 0h1m50 0h1m8 0h1m18 0h1m-105 1h1m16 0h1m5 0h1m47 0h2m5 0h1m3 0h1m1 0h1m3 0h1m14 0h1m-96 1h1m3 0h1m10 0h1m8 0h1m19 0h1m28 0h1m6 0h1m7 0h1m4 0h1m4 0h1m-90 1h1m54 0h1m17 0h1m-83 1h1m19 0h1m1 0h1m4 0h1m43 0h1m11 0h1m1 0h1m12 0h1m-108 1h1m22 0h2m46 0h1m2 0h1m18 0h1m-23 1h1m11 0h1m5 0h1m8 0h1m-95 1h2m2 0h1m83 0h1m13 0h1m-102 1h1m4 0h1m2 0h1m3 0h2m78 0h1m-103 1h2m1 0h1m95 0h1m8 0h1m-101 1h1m1 0h1m74 0h1m5 0h1m8 0h1m-93 1h1m10 0h1m10 0h1m56 0h1m5 0h1m2 0h1m3 0h1m-90 1h1m1 0h1m7 0h1m5 0h1m2 0h1m53 0h1m3 0h1m4 0h1m-93 1h1m33 0h1m53 0h1m2 0h1m12 0h1m-79 1h1m5 0h1m51 0h1m23 0h1m-111 1h1m7 0h1m4 0h1m45 0h1m20 0h1m18 0h1m6 0h1m2 0h1m2 0h2m-111 1h1m76 0h1m20 0h1m9 0h1m-73 1h1m38 0h2m13 0h1m19 0h1m-108 1h1m1 0h1m17 0h2m49 0h1m31 0h1m-94 1h1m3 0h1m57 0h1m3 0h1m12 0h2m5 0h1m4 0h1m-29 1h1m4 0h1m7 0h1m18 0h1m-100 1h1m15 0h1m1 0h1m57 0h1m5 0h1m13 0h2m-108 1h1m3 0h1m11 0h1m19 0h1m45 0h1m20 0h1m1 0h1m-92 1h1m1 0h2m9 0h1m12 0h1m39 0h1m9 0h1m13 0h1m-107 1h1m18 0h1m59 0h1m3 0h1m1 0h1m10 0h1m7 0h1m-104 1h1m25 0h1m5 0h1m45 0h1m7 0h1m22 0h2m-109 1h1m4 0h1m15 0h1m34 0h1m20 0h1m9 0h2m10 0h1m1 0h1m6 0h1m-112 1h1m12 0h1m66 0h1m2 0h1m2 0h1m4 0h1m-79 1h1m3 0h1m20 0h1m20 0h1m19 0h1m19 0h1m-97 1h1m18 0h1m1 0h1m10 0h1m5 0h2m44 0h1m12 0h1m3 0h1m5 0h1m-107 1h1m17 0h1m14 0h1m3 0h1m58 0h1m-89 1h1m10 0h3m11 0h1m39 0h1m13 0h1m11 0h1m4 0h1m3 0h1m-108 1h1m22 0h2m47 0h1m16 0h1m11 0h1m1 0h1m-95 1h1m17 0h1m3 0h1m2 0h1m1 0h1m17 0h1m31 0h1m2 0h1m11 0h1m1 0h1m-80 1h2m59 0h1m2 0h1m2 0h1m2 0h1m1 0h1m2 0h1m5 0h1m-98 1h1m6 0h2m1 0h1m8 0h1m4 0h1m3 0h1m62 0h2m-96 1h2m15 0h1m8 0h1m43 0h2m2 0h1m1 0h1m-71 1h1m4 0h1m3 0h1m3 0h1m3 0h1m47 0h1m29 0h2m-85 1h1m10 0h1m39 0h1m19 0h1m12 0h1m-109 1h1m1 0h1m19 0h1m10 0h1m42 0h1m11 0h1m12 0h1m-100 1h2m5 0h1m11 0h1m4 0h1m57 0h1m8 0h1m4 0h1m-100 1h1m9 0h2m3 0h1m15 0h1m1 0h1m47 0h1m-71 1h1m15 0h1m2 0h1m25 0h1m22 0h1m4 0h3m12 0h1m5 0h1m-106 1h1m12 0h1m15 0h2m1 0h1m23 0h1m21 0h1m-76 1h2m34 0h1m34 0h1m2 0h1m4 0h1m20 0h1m1 0h1m2 0h1m-91 1h1m8 0h1m2 0h1m2 0h1m57 0h1m-95 1h1m10 0h1m27 0h1m50 0h1m7 0h1m5 0h1m5 0h1m-96 1h1m4 0h1m68 0h1m13 0h1m-92 1h1m6 0h1m12 0h1m58 0h1m-65 1h1m8 0h1m57 0h1m13 0h1m-94 1h1m1 0h1m66 0h1m4 0h1m2 0h1m5 0h1m2 0h1m-86 1h1m7 0h1m63 0h1m-83 1h1m22 0h1m5 0h1m41 0h1m7 0h1m8 0h1m-94 1h1m3 0h1m3 0h1m7 0h2m18 0h1m44 0h1m1 0h1m3 0h2m10 0h1m-84 1h1m2 0h1m61 0h1m11 0h1m4 0h2m4 0h1m3 0h1m-105 1h1m5 0h1m14 0h1m2 0h1m7 0h1m52 0h2m-61 1h1m8 0h1m39 0h1m6 0h1m13 0h2m8 0h1m-107 1h1m4 0h1m17 0h1m5 0h1m7 0h1m42 0h1m17 0h1m1 0h1m6 0h1m-108 1h1m34 0h1m55 0h1m3 0h1m3 0h1m4 0h1m3 0h1m-88 1h1m59 0h1m10 0h1m2 0h1m3 0h1m1 0h1m-95 1h1m2 0h1m5 0h1m61 0h1m8 0h1m10 0h1m4 0h1m1 0h2m-102 1h1m12 0h1m7 0h1m10 0h1m37 0h1m12 0h1m2 0h1m8 0h1m2 0h1m-101 1h1m13 0h1m1 0h1m1 0h1m14 0h1m36 0h1m2 0h1m2 0h1m11 0h1m13 0h1m-106 1h2m8 0h1m43 0h1m50 0h1m-98 1h2m4 0h1m63 0h1m15 0h1m13 0h1m-112 1h2m74 0h1m19 0h1m7 0h2m-101 1h1m95 0h1m-103 1h1m3 0h1m6 0h1m7 0h1m5 0h1m5 0h1m47 0h2m1 0h1m11 0h1m8 0h1m-75 1h1m9 0h1m36 0h1m1 0h1m10 0h1m20 0h1m-106 1h1m1 0h2m4 0h1m5 0h1m66 0h1m4 0h1m1 0h1m1 0h1m7 0h1m7 0h1m-89 1h1m3 0h1m5 0h1m6 0h1m17 0h1m19 0h2m7 0h1m17 0h1m-104 1h1m3 0h1m5 0h1m20 0h1m44 0h1m1 0h1m10 0h1m13 0h1m-99 1h1m21 0h1m46 0h1m3 0h1m2 0h1m-59 1h1m50 0h1m13 0h1m3 0h1m7 0h1m-104 1h1m11 0h1m7 0h1m58 0h3m2 0h2m27 0h1m-101 1h2m8 0h1m7 0h1m47 0h2m20 0h1m5 0h1m-106 1h1m6 0h1m23 0h1m4 0h1m38 0h1m4 0h1m11 0h1m5 0h1m1 0h1m5 0h1m-105 1h1m28 0h1m3 0h1m48 0h1m6 0h1m5 0h1m4 0h1m-100 1h1m17 0h1m16 0h1m40 0h1m11 0h1m3 0h1m5 0h1m-90 1h1m24 0h1m46 0h1m2 0h1m13 0h1m-93 1h2m4 0h1m12 0h1m2 0h1m57 0h2m6 0h1m3 0h1m-101 1h1m3 0h1m6 0h1m9 0h1m1 0h1m32 0h1m26 0h1m4 0h1m3 0h1m2 0h1m-81 1h1m6 0h2m3 0h1m3 0h1m43 0h2m16 0h1m-91 1h1m72 0h3m14 0h1m6 0h1m-97 1h1m7 0h1m1 0h1m18 0h1m42 0h1m16 0h1m2 0h1m1 0h1m4 0h1m-96 1h1m9 0h1m12 0h1m7 0h1m40 0h1m7 0h1m14 0h1m-82 1h1m53 0h1m16 0h1m-87 1h1m25 0h1m57 0h1m2 0h1m14 0h1m-103 1h1m7 0h1m12 0h1m1 0h1m43 0h1m4 0h1m6 0h1m6 0h1m-97 1h1m16 0h1m2 0h1m1 0h1m17 0h2m17 0h1m20 0h1m23 0h1m1 0h1m-95 1h2m1 0h2m11 0h1m48 0h1m15 0h1m2 0h1m3 0h1m7 0h1m-109 1h1m14 0h1m8 0h1m1 0h1m2 0h1m54 0h1m17 0h1m5 0h1m-106 1h1m24 0h1m48 0h1m2 0h1m6 0h1m4 0h2m12 0h1m-98 1h1m3 0h1m3 0h1m14 0h1m50 0h1m5 0h1m6 0h1m-80 1h1m3 0h1m3 0h1m6 0h1m44 0h1m21 0h1m-84 1h1m1 0h1m68 0h1m-88 1h1m22 0h1m5 0h1m12 0h1m38 0h1m30 0h1m-109 1h1m8 0h1m70 0h1m8 0h1m-87 1h1m1 0h1m23 0h1m59 0h1m7 0h1m-66 1h1m4 0h1m17 0h1m21 0h1m5 0h1m16 0h1m-87 1h1m23 0h1m46 0h1m4 0h2m4 0h1m9 0h1m2 0h1m-96 1h1m-4 1h1m1 0h1m1 0h1m6 0h1m1 0h1m53 0h2m18 0h1m-102 1h1m8 0h1m66 0h1m4 0h1m18 0h1m-101 1h1m15 0h2m91 0h1m2 0h1m-110 1h1m5 0h1m3 0h3m12 0h1m4 0h1m56 0h2m9 0h2m-99 1h1m8 0h2m20 0h1m51 0h1m-56 1h1m46 0h1m3 0h1m7 0h1m2 0h1m2 0h1m-98 1h1m2 0h1m19 0h1m2 0h1m50 0h1m4 0h1m4 0h1m4 0h1m19 0h1m-92 1h1m8 0h1m62 0h1m6 0h2m1 0h1m4 0h1m-103 1h1m71 0h1m2 0h2m-54 1h1m28 0h1m27 0h1m10 0h1m14 0h1m-98 1h1m4 0h1m4 0h1m2 0h1m10 0h1m1 0h1m40 0h1m13 0h1m12 0h1m-109 1h1m14 0h1m13 0h1m9 0h1m43 0h1m2 0h1m11 0h1m-71 1h1m3 0h1m2 0h1m-6 1h1m1 0h1m45 0h1m12 0h1m-89 1h1m4 0h1m10 0h1m6 0h1m68 0h1m7 0h1m-71 1h1m54 0h2m6 0h2m1 0h1m-92 1h1m18 0h1m71 0h1m2 0h1m1 0h1m-107 1h1m20 0h1m62 0h1m2 0h1m2 0h2m3 0h1m4 0h1m-90 1h1m2 0h1m26 0h1m39 0h1m1 0h1m24 0h1m-100 1h1m6 0h1m3 0h2m8 0h1m9 0h1m39 0h1m5 0h2m-81 1h2m4 0h1m15 0h1m1 0h1m1 0h1m48 0h1m6 0h1m2 0h1m1 0h1m2 0h1m2 0h1m6 0h1m-98 1h1m4 0h1m2 0h1m7 0h1m1 0h1m54 0h1m16 0h1m10 0h1m-98 1h1m23 0h2m2 0h1m53 0h1m9 0h1m6 0h1m-109 1h1m71 0h1m2 0h1m10 0h1m16 0h1m4 0h1m-113 1h1m20 0h1m5 0h1m57 0h1m5 0h1m5 0h1m-65 1h1m55 0h1m4 0h1m12 0h2m-97 1h1m19 0h1m45 0h1m1 0h1m-73 1h1m10 0h1m12 0h1m6 0h1m36 0h1m10 0h1m-83 1h1m86 0h1m4 0h1m8 0h1m-101 1h1m9 0h1m5 0h1m15 0h1m56 0h1m6 0h1m-26 1h1m6 0h1m1 0h1m3 0h1m2 0h1m-68 1h1m13 0h1m17 0h1m24 0h1m5 0h1m-90 1h1m4 0h1m19 0h1m1 0h1m8 0h1m39 0h1m11 0h1m5 0h1m10 1h1m-74 1h1m53 0h2m14 0h1m-92 1h1m26 0h1m38 0h1m4 0h1m1 0h1m22 0h1m-86 1h2m10 0h1m4 0h1m38 0h1m10 0h1m17 0h3m-24 1h1m9 0h1m-97 1h1m19 0h1m78 0h1m5 0h1m-107 1h2m8 0h2m9 0h1m63 0h1m8 0h1m6 0h1m3 0h1m-28 1h1m33 0h1m-99 1h1m12 0h2m7 0h1m62 0h1m7 0h1m3 0h1m-84 1h1m30 0h1m30 0h1m5 0h1m5 0h2m2 0h1m2 0h1m2 0h1m-91 1h1m70 0h2m5 0h2m8 0h1m-76 1h1m23 0h1m53 0h1m-112 1h1m36 0h1m2 0h1m16 0h1m20 0h1m2 0h1m9 0h1m17 0h1m-103 1h1m1 0h1m10 0h2m5 0h1m1 0h1m50 0h1m13 0h1m9 0h1m-76 1h1m5 0h1m44 0h1m28 0h1m-105 1h1m5 0h1m1 0h1m15 0h1m53 0h1m22 0h1m-101 1h1m31 0h1m40 0h1m5 0h1m4 0h1m7 0h1m2 0h2m8 0h1m-97 1h1m1 0h1m59 0h2m29 0h1m-97 1h2m10 0h1m4 0h1m8 0h1m42 0h1m17 0h1m7 0h1m-85 1h1m6 0h1m52 0h1m5 0h1m4 0h1m7 0h1m-94 1h1m1 0h1m7 0h2m8 0h1m2 0h1m43 0h1m6 0h1m9 0h1m-84 1h1m7 0h1m1 0h1m19 0h1m46 0h1m1 0h1m3 0h1m-95 1h1m10 0h1m22 0h1m1 0h1m46 0h1m25 0h1m-87 1h1m14 0h1m49 0h1m5 0h1m-84 1h1m-9 1h1m1 0h1m3 0h1m5 0h1m11 0h1m1 0h1m65 0h1m11 0h1m4 0h1m-99 1h2m18 0h1m42 0h1m9 0h1m3 0h1m1 0h2m7 0h1m-95 1h2m1 0h1m10 0h1m18 0h1m16 0h1m19 0h1m8 0h1m1 0h1m21 0h1m-100 1h1m2 0h1m1 0h1m64 0h1m9 0h1m9 0h1m-101 1h1m2 0h1m13 0h1m17 0h1m3 0h1m35 0h1m4 0h1m12 0h1m8 0h1m4 0h1m2 0h1m-102 1h1m71 0h1m8 0h1m-92 1h1m12 0h1m8 0h1m8 0h1m51 0h2m14 0h2m2 0h1m4 0h1m-80 1h1m48 0h1m8 0h1m5 0h1m6 0h2m-76 1h1m3 0h1m1 0h1m50 0h1m17 0h1m6 0h1m-105 1h1m7 0h1m10 0h1m2 0h1m54 0h1m13 0h1m-97 1h1m30 0h1m52 0h1m16 0h1m4 0h1m3 0h1m-109 1h1m28 0h1m67 0h1m9 0h1m1 0h1m-87 1h1m85 0h1m-85 1h1m55 0h1m6 0h1m6 0h1m-88 1h1m24 0h1m2 0h1m2 0h1m54 0h1m11 0h1m-109 1h1m2 0h1m8 0h1m2 0h1m61 0h1m2 0h1m4 0h1m17 0h1m3 0h1m-90 1h1m73 0h2m6 0h1m10 0h2m-101 1h1m2 0h1m5 0h1m13 0h2m21 0h1m29 0h1m5 0h1m7 0h1m5 0h2m2 0h1m-94 1h1m5 0h2m4 0h1m46 0h1m11 0h1m4 0h1m2 0h1m9 0h1m-104 1h1m18 0h1m82 0h1m-107 1h1m29 0h1m62 0h1m13 0h1m-105 1h1m1 0h1m4 0h1m14 0h1m5 0h1m1 0h1m48 0h1m25 0h1m-99 1h1m7 0h1m6 0h1m12 0h1m42 0h1m3 0h1m18 0h1m-97 1h1m18 0h1m53 0h1m3 0h1m3 0h1m1 0h1m9 0h1m8 0h1m-91 1h1m9 0h1m2 0h1m23 0h1m38 0h1m7 0h2m-99 1h1m19 0h1m12 0h1m59 0h1m2 0h1m3 0h2m-104 1h1m8 0h1m42 0h1m27 0h1m5 0h1m-65 1h1m54 0h1m3 0h1m8 0h1m9 0h1m-102 1h1m12 0h1m8 0h1m1 0h1m66 0h1m-70 1h2m52 0h1m4 0h1m1 0h1m6 0h1m7 0h1m3 0h1m-91 1h1m3 0h1m11 0h1m6 0h1m47 0h2m-83 1h1m28 0h1m39 0h1m25 0h1m4 0h1m-105 1h1m18 0h1m55 0h1m15 0h1m3 0h2m4 0h1m6 0h1m-75 1h1m3 0h1m36 0h2m15 0h1m-94 1h1m3 0h1m15 0h1m18 0h1m45 0h1m15 0h1m-65 1h1m-39 1h1m3 0h1m23 0h1m4 0h1m6 0h1m39 0h1m1 0h1m7 0h1m4 0h1m3 0h1m1 0h1m5 0h1m-99 1h1m21 0h1m52 0h1m5 0h1m3 0h1m3 0h1m7 0h1m-77 1h1m1 0h1m62 0h1m-78 1h1m68 0h1m-83 1h1m2 0h1m21 0h1m3 0h1m1 0h1m2 0h1m47 0h1m13 0h1m5 0h1m-110 1h1m24 0h1m6 0h1m6 0h1m51 0h1m-14 1h1m14 0h1m6 0h1m7 0h1m-109 1h1m33 0h1m42 0h1m11 0h1m-84 1h1m14 0h1m6 0h3m4 0h1m56 0h1m-93 1h1m6 0h1m5 0h1m1 0h1m7 0h1m7 0h1m64 0h1m1 0h1m9 0h1m-102 1h1m6 0h1m8 0h2m53 0h1m28 0h1m-96 1h1m85 0h1m1 0h2m11 0h1m-100 1h1m90 0h1m-70 1h1m2 0h1m48 0h1m3 0h2m4 0h1m3 0h1m-100 1h2m7 0h1m3 0h1m5 0h1m2 0h1m13 0h1m50 0h1m10 0h1m11 0h1m-103 1h1m21 0h1m2 0h2m68 0h1m-86 1h1m5 0h1m57 0h1m8 0h1m6 0h2m1 0h1m7 0h2m-106 1h1m4 0h1m5 0h1m2 0h1m1 0h1m53 0h2m6 0h1m1 0h1m3 0h1m12 0h1m2 0h1m-105 1h1m22 0h1m49 0h1m6 0h1m9 0h2m17 0h1m-106 1h1m8 0h1m21 0h1m45 0h1m10 0h1m-94 1h1m17 0h1m2 0h1m68 0h1m12 0h1m6 0h1m-95 1h1m1 0h1m5 0h1m4 0h1m4 0h1m55 0h1m5 0h1m5 0h1m-100 1h1m4 0h1m6 0h1m1 0h1m3 0h1m15 0h1m57 0h2m4 0h1m-96 1h1m3 0h1m5 0h1m65 0h1m2 0h1m16 0h1m-82 1h1m12 0h1m47 0h1m8 0h2m6 0h1m-98 1h1m4 0h1m48 0h1m30 0h1m5 0h1m1 0h1m9 0h1m-91 1h1m2 0h1m14 0h1m5 0h1m-42 1h1m2 0h1m9 0h1m1 0h1m9 0h1m76 0h1m-94 1h2m19 0h1m45 0h1m18 0h1m16 0h1m-102 1h1m7 0h1m17 0h1m2 0h1m37 0h1m29 0h1m-96 1h1m10 0h2m2 0h1m5 0h1m23 0h1m25 0h1m3 0h1m7 0h1m11 0h1m1 0h1m-112 1h1m9 0h1m28 0h1m39 0h1m3 0h1m1 0h1m8 0h1m1 0h1m-63 1h1m3 0h1m1 0h1m44 0h1m27 0h1m-97 1h1m19 0h1m43 0h1m4 0h1m4 0h1m10 0h1m10 0h1m-98 1h1m11 0h1m10 0h1m38 0h1m4 0h1m14 0h1m6 0h1m3 0h1m-105 1h1m2 0h1m77 0h1m3 0h1m6 0h1m1 0h1m-65 1h1m23 0h1m19 0h1m8 0h1m10 0h1m-98 1h1m80 0h1m9 0h1m-88 1h1m3 0h1m17 0h2m10 0h1m55 0h1m6 0h1m5 0h1m-82 1h1m1 0h1m55 0h1m4 0h1m19 0h1m-96 1h1m4 0h1m13 0h1m48 0h1m9 0h1m3 0h1m1 0h2m9 0h1m-111 1h1m1 0h1m36 0h1m47 0h1m10 0h1m8 0h1m3 0h1m-29 1h1m-50 1h1m5 0h2m36 0h1m2 0h1m-65 1h1m19 0h1m40 0h1m8 0h1m2 0h1m3 0h1m-72 1h1m59 0h1m4 0h1m5 0h2m4 0h1m9 0h2m-110 1h1m4 0h1m2 0h2m14 0h1m9 0h1m47 0h2m4 0h1m4 0h1m4 0h1m9 0h1m-107 1h1m79 0h1m6 0h1m-85 1h1m3 0h1m13 0h2m4 0h1m26 0h1m20 0h1m24 0h1m4 0h1m2 0h1m-88 1h1m50 0h1m8 0h1m11 0h1m6 0h1m7 0h1m-83 1h1m54 0h2m1 0h1m16 0h1m3 0h1m-104 1h1m28 0h1m4 0h1m42 0h1m6 0h1m2 0h1m2 0h1m-91 1h1m18 0h1m5 0h1m26 0h1m29 0h1m12 0h1m-103 1h1m1 0h1m11 0h1m18 0h1m43 0h1m10 0h1m13 0h1m1 0h1m-98 1h1m4 0h2m15 0h2m5 0h1m41 0h1m2 0h1m19 0h1m10 0h1m-106 1h2m72 0h1m8 0h1m21 0h1m-98 1h1m8 0h1m12 0h1m60 0h1m1 0h1m-95 1h1m81 0h1m1 0h2m-76 1h1m6 0h1m14 0h1m39 0h1m12 0h1m9 0h1m-102 1h1m1 0h1m4 0h1m12 0h1m72 0h1m1 0h1m14 0h1m-110 1h1m5 0h1m11 0h1m11 0h1m2 0h1m45 0h1m8 0h1m16 0h1m1 0h1m-98 1h1m9 0h2m18 0h1m47 0h1m8 0h1m-97 1h1m5 0h1m27 0h1m22 0h1m19 0h1m3 0h1m1 0h3m23 0h1m1 0h1m-92 1h3m4 0h1m29 0h1m18 0h1m-77 1h1m26 0h1m2 0h1m8 0h1m65 0h1m-99 1h1m6 0h2m16 0h1m7 0h1m46 0h1m10 0h1m2 0h1m1 0h1m3 0h1m1 0h1m-106 1h1m4 0h1m15 0h1m13 0h1m39 0h1m4 0h2m15 0h1m1 0h1m7 0h1m-114 1h1m5 0h1m7 0h2m5 0h1m3 0h1m59 0h1m6 0h1m3 0h1m7 0h2m-66 1h1m46 0h1m8 0h1m8 0h1m1 0h1m-83 1h1m3 0h1m8 0h1m2 0h1m39 0h1m4 0h1m7 0h1m8 0h1m7 0h1m-77 1h2m49 0h1m1 0h1m21 0h1m-90 1h1m3 0h1m6 0h1m7 0h1m37 0h1m11 0h1m6 0h1m14 0h1m-107 1h1m3 0h1m10 0h1m17 0h1m2 0h1m36 0h1m12 0h2m5 0h1m1 0h1m7 0h1m-68 1h1m34 0h1m15 0h1m12 0h1m-76 1h1m5 0h1m47 0h1m5 0h1m18 0h1m-108 1h1m7 0h1m2 0h1m10 0h2m14 0h1m46 0h1m6 0h2m12 0h1m-102 1h1m6 0h1m2 0h1m1 0h2m11 0h1m45 0h1m4 0h1m8 0h1m2 0h1m8 0h1m4 0h1m-94 1h1m7 0h2m10 0h1m41 0h1m7 0h1m23 0h1m1 0h1m-111 1h1m10 0h1m1 0h1m15 0h1m8 0h1m46 0h1m23 0h1m-109 1h1m25 0h1m8 0h2m36 0h3m10 0h1m15 0h1m-97 1h1m28 0h1m58 0h1m2 0h1m8 0h1m-83 1h1m1 0h1m2 0h1m43 0h1m24 0h1m7 0h1m-106 1h1m27 0h1m6 0h1m37 0h1m4 0h1m16 0h1m7 0h1m4 0h1m-112 1h1m1 0h1m6 0h1m4 0h1m7 0h1m8 0h1m44 0h1m23 0h1m-74 1h1m9 0h1m40 0h1m8 0h1m13 0h1m1 0h1m-102 1h1m24 0h1m47 0h1m3 0h1m21 0h2m-104 1h1m22 0h1m4 0h1m50 0h1m10 0h1m15 0h1m-107 1h1m16 1h1m18 0h1m3 0h1m56 0h1m7 0h1m5 0h1m-94 1h1m10 0h1m52 0h1m8 0h1m-92 1h1m36 0h1m48 0h1m2 0h1m20 0h1m-95 1h1m75 0h1m-81 1h1m3 0h1m4 0h1m65 0h1m2 0h1m3 0h1m17 0h1m-107 1h1m8 0h1m11 0h1m1 0h1m3 0h1m68 0h1m3 0h1m5 0h1m-100 1h1m6 0h1m4 0h1m6 0h1m58 0h1m-78 1h1m11 0h1m67 0h1m-86 1h1m25 0h1m2 0h1m60 0h1m-97 1h1m73 0h1m2 0h1m3 0h1m7 0h1m7 0h2m-103 1h1m81 0h1m3 0h1m3 0h2m15 0h1m-23 1h1m2 0h1m-4 1h1m12 0h1m-93 1h1m6 0h1m6 0h1m66 0h1m24 0h1m-97 1h1m4 0h1m3 0h1m1 0h2m1 0h1m10 0h1m70 0h2m-100 1h1m13 0h1m9 0h1m52 0h1m6 0h1m8 0h1m-105 1h1m2 0h1m9 0h1m9 0h1m7 0h1m46 0h1m19 0h1m-100 1h1m19 0h1m72 0h1m6 0h1m5 0h2m-79 1h1m54 0h1m-86 1h1m22 0h1m72 0h1m6 0h2m-87 1h1m77 0h1m1 0h1m-85 1h1m20 0h1m5 0h1m60 0h1m6 0h1m-109 1h1m7 0h1m86 0h1m3 0h1m-99 1h1m34 0h1m58 0h1m3 0h2m7 0h1m-111 1h1m23 0h1m10 0h1m1 0h1m43 0h2m29 0h1m-108 1h1m4 0h1m10 0h1m4 0h1m8 0h1m47 0h1m15 0h1m10 0h1m-101 1h1m11 0h1m8 0h1m45 0h1m25 0h1m-98 1h1m5 0h1m27 0h1m-39 1h1m3 0h1m2 1h1m26 0h2m-16 1h1m64 0h1m13 0h1m4 0h1m-101 1h1m6 0h1m7 0h1m1 0h1m3 0h1m31 0h1m17 0h1m8 0h1m14 0h1m3 0h1m-84 1h1m62 0h1m6 0h1m3 0h1m8 0h1m-100 1h1m8 0h1m9 0h1m6 0h1m1 0h1m3 0h1m55 0h1m1 0h1m-78 1h1m4 0h1m54 0h1m16 0h1m-97 1h1m1 0h1m10 0h1m23 0h1m45 0h1m8 0h1m7 0h1m-94 1h1m15 0h1m2 0h1m13 0h1m39 0h1m19 0h1m-89 1h1m10 0h2m3 0h1m11 0h1m39 0h1m27 0h1m-92 1h1m70 0h1m2 0h1m1 0h1m8 0h1m7 0h1m-99 1h1m89 0h1m-93 1h2m3 0h1m4 0h1m10 0h1m27 0h1m30 0h1m-86 1h1m13 0h1m14 0h1m42 0h2m3 0h1m-56 1h1m5 0h1m3 0h1m39 0h2m13 0h1m17 0h1m-100 1h1m98 0h1m-98 1h2m95 0h1m-81 1h1m6 0h1m21 0h1m-33 1h1m7 0h1m47 0h1m1 0h1m1 0h1m-72 1h1m6 0h1m5 0h1m53 0h1m1 0h3m4 0h1m-58 1h1m49 0h1m1 0h1m4 0h1m-76 1h1m2 0h1m1 0h1m69 0h1m19 0h1m-92 1h1m8 0h1m60 0h1m20 0h1m-90 1h2m2 0h1m58 0h1m4 0h1m3 0h1m12 0h1m-98 1h1m5 0h1m66 0h1m1 0h1m4 0h1m3 0h1m15 0h1m-85 1h1m5 0h1m1 0h1m48 0h1m3 0h1m2 0h1m2 0h2m8 0h1m6 0h1m-94 1h1m7 0h1m2 0h2m8 0h1m42 0h1m1 0h1m3 0h1m5 0h2m8 0h1m6 0h1m-90 1h1m6 0h1m5 0h1m4 0h1m41 0h1m5 0h1m1 0h1m3 0h1m13 0h1m-106 1h2m5 0h1m1 0h1m21 0h1m5 0h1m41 0h1m7 0h1m2 0h1m11 0h1m2 0h1m-107 1h2m6 0h1m7 0h1m12 0h1m1 0h2m6 0h1m48 0h1m2 0h1m11 0h1m2 0h1m-104 1h2m7 0h1m5 0h1m12 0h1m25 0h1m23 0h1m-79 1h1m3 0h1m2 0h1m2 0h3m1 0h1m6 0h1m3 0h1m4 0h2m2 0h1m43 0h1m-83 1h1m4 0h1m1 0h1m2 0h1m7 0h1m1 0h1m1 0h2m2 0h1m4 0h1m2 0h1m3 0h1m2 0h1m-37 1h1m1 0h1m23 0h1m4 0h1m-38 1h1m6 0h1m14 0h1m2 0h1m11 0h1m-38 1h1m3 0h1m23 0h1m9 0h1"/><path stroke="#c300ff" d="M201 32h1m10 0h1m6 2h1m-21 2h1m100 1h1m-94 1h1m-13 2h1m8 0h1m30 1h1m-39 1h1m25 0h1m30 0h1m-1 1h1m-50 2h1m9 3h1m17 0h1m-18 1h1m6 0h1m-26 1h1m10 1h1m7 0h1m-2 2h1m3 1h1m13 2h1m65 0h1m-91 1h1m6 1h1m15 0h1m-8 1h1m48 0h1m-64 1h1m73 2h1m-87 1h1m24 3h1m-7 1h1m5 2h1m-16 3h1m2 0h1m9 1h1m-25 2h1m-5 1h1m22 0h1m-11 4h1m2 0h1m6 3h1m67 0h1m-88 1h1m6 1h1m12 1h1m59 0h1m-73 1h1m86 0h1m-91 1h1m94 0h1m-97 2h1m27 0h1m-11 1h1m-5 2h1m4 1h1m7 1h1m-26 1h1m28 0h2m-21 1h1m-3 3h1m1 0h1m64 0h1m15 0h1m-60 1h1m-5 3h1m-33 4h1m-5 4h1m10 0h1m-11 1h1m55 0h1m-49 1h1m3 0h1m-4 2h1m23 0h1m-20 2h1m19 1h1m-8 1h1m71 0h1m-16 3h1m-80 1h1m16 0h1m33 1h1m-33 2h1m13 0h1m-15 1h1m31 0h1m-45 1h1m12 0h1m51 0h1m-77 1h1m28 0h1m-8 2h1m-9 1h1m4 0h1m55 0h1m-47 4h1m-30 1h1m24 1h1m-29 1h1m20 0h1m-23 1h1m21 0h1m15 4h1m20 0h1m-37 1h1m-6 2h1m2 1h1m-2 2h1m86 0h1m-94 1h1m2 0h1m20 1h1m58 0h1m7 1h1m-95 1h1m47 2h1m37 1h1m-81 2h1m2 0h1m16 2h1m21 0h1m20 0h1m-64 2h1m-8 1h1m83 5h1m-83 1h1m-7 1h1m15 1h1m-19 2h1m6 0h1m1 0h1m-14 2h1m58 0h1m-33 2h1m6 4h1m51 0h1m2 1h1m-83 1h1m8 0h1m-16 1h1m2 1h1m2 0h1m88 0h1m-58 2h1m-32 1h1m8 0h1m12 1h1m-19 1h1m-5 1h1m0 1h1m7 0h1m-13 1h1m78 0h1m-84 3h1m1 1h1m2 0h1m28 1h1m-21 1h1m8 0h1m-4 1h1m7 1h1m29 3h1m-45 3h1m23 1h1m56 3h1m-93 3h1m2 0h1m51 0h1m21 1h1m-72 2h1m5 1h1m14 0h1m-29 2h1m1 0h1m-4 1h1m3 1h1m-1 1h1m23 0h1m28 2h1m-26 1h1m47 1h1m-51 1h1m-24 1h1m31 0h1m-42 1h1m58 0h1m17 0h1m-50 1h1m7 0h1m-11 1h1m-14 1h1m26 0h1m1 0h1m-15 3h1m56 1h1m-78 5h1m30 3h1m-20 1h1m4 3h1m-22 1h1m21 1h1m-27 4h1m22 0h1m4 0h1m4 1h1m-29 3h1m20 0h1m-27 2h1m3 0h1m7 0h1m-12 5h1m31 0h1m-21 1h1m45 0h1m-27 1h1m2 3h1m-17 3h1m6 0h1m-24 4h1m32 2h1m-37 1h1m26 1h1m5 1h1m-18 1h1m11 0h1m-27 3h1m30 0h2m-22 3h1m-4 1h1m47 0h1m39 0h1m9 0h1m-92 2h1m1 0h1m-21 1h1m29 1h1m-25 1h2m80 0h1m-2 6h1m-88 1h1m8 0h1m26 0h1m41 1h1m-54 1h1m33 0h1m26 0h1m-85 1h1m21 0h1m-11 2h1m13 0h1m5 0h1m4 0h1m-11 1h1m71 1h1m-101 1h1m11 2h1m2 0h1m24 0h1m36 0h1m-60 2h1m17 0h1m-13 1h1m7 3h1m-18 2h1m15 0h1m58 0h1m11 1h1m9 1h1m-101 1h1m2 0h1m-9 1h1m6 0h1m20 0h1m-12 2h1m16 0h1m-7 4h1m69 0h1m-77 3h1m77 0h1m-107 3h1m8 0h1m24 0h1m56 0h1m-92 1h1m10 1h1m-12 1h1m33 0h1m3 0h1m-16 1h1m10 0h1m-31 2h1m5 0h1m4 0h1m72 2h1m-11 3h1m-58 2h1m5 0h1m4 2h1m-28 1h1m103 0h1m-77 4h1m-23 1h1m-5 1h1m23 0h1m-9 4h1m-22 1h1m5 1h1m72 0h1m-25 3h1m-56 1h1m34 2h1m-3 2h1m-30 2h1m77 0h1m-85 2h1m1 0h1m6 0h1m11 1h1m87 0h1m-76 1h1m68 2h1m6 1h1m-77 1h1m-15 2h1m14 1h1m21 0h1m-56 1h1m74 2h1m-67 1h1m26 0h1m-16 2h1m-22 2h1m54 1h1m52 0h1m-71 2h1m-3 4h1m18 3h1m-18 2h1m-30 1h1m23 0h1m2 0h1m-11 1h1m-7 1h1m-8 2h1"/><path stroke="#c4ff00" d="M274 244h1"/><path stroke="#c500c5" d="M215 32h1m1 0h1m6 0h1m83 0h1m-113 1h1m2 0h1m11 0h1m19 0h1m43 0h1m9 0h1m4 0h1m6 0h1m3 0h1m1 0h1m1 0h1m-111 1h1m36 0h1m2 0h1m57 0h1m6 0h2m2 0h2m-83 1h1m4 0h1m59 0h1m1 0h1m-81 1h1m24 0h1m1 0h1m34 0h1m19 0h1m-63 1h1m3 0h1m42 0h1m19 0h1m9 0h1m-107 1h1m79 0h1m-80 1h2m1 0h1m3 0h1m1 0h1m12 0h1m2 0h1m45 0h2m17 0h1m6 0h2m-92 1h1m12 0h1m11 0h1m37 0h1m17 0h1m-60 1h1m55 0h1m2 0h1m1 0h1m7 0h1m-89 1h1m9 0h1m12 0h1m41 0h1m4 0h1m-52 1h1m50 0h1m6 0h1m8 0h1m7 0h1m-106 1h1m3 0h1m21 0h1m65 0h1m6 0h1m-106 1h1m16 0h1m10 0h1m3 0h1m8 0h1m69 0h1m-111 1h2m12 0h1m9 0h2m50 0h1m8 0h1m6 0h1m1 0h1m12 0h1m-6 1h1m-93 1h1m71 0h1m2 0h1m2 0h1m23 0h1m-108 1h1m100 0h1m1 0h1m-33 1h1m5 0h1m3 0h1m4 0h1m7 0h1m8 0h1m-93 1h1m6 0h1m4 0h1m53 0h1m-82 1h1m17 0h2m17 0h1m-3 1h2m3 0h1m16 0h1m19 0h1m3 0h1m11 0h2m-59 1h1m20 0h1m26 0h1m8 0h1m1 0h1m5 0h1m8 0h1m-110 1h1m8 0h1m69 0h1m5 0h1m-87 1h1m3 0h2m17 0h1m59 0h1m17 0h1m-22 1h1m6 0h1m10 0h1m6 0h1m-102 1h1m8 0h1m64 0h1m2 0h1m16 0h1m11 0h1m-100 1h1m24 0h1m57 0h2m1 0h1m6 0h2m-96 1h1m25 0h1m1 0h1m68 0h1m-21 1h1m12 0h1m9 0h1m-113 1h1m2 0h1m8 0h1m17 0h1m5 0h1m48 0h1m7 0h1m-87 1h1m6 0h1m13 0h1m51 0h1m15 0h1m9 0h2m2 0h1m1 0h1m-105 1h1m7 0h1m74 0h1m19 0h1m-99 1h1m11 0h1m15 0h1m46 0h1m22 0h2m-113 1h1m86 0h1m23 0h1m-83 1h1m10 0h1m40 0h1m4 0h1m23 0h1m-81 1h1m3 0h1m44 0h1m2 0h1m4 0h1m19 0h1m-104 1h1m2 0h1m23 0h1m27 0h1m22 0h1m2 0h1m26 0h1m-98 1h1m72 0h1m1 0h1m4 0h1m-91 1h1m6 0h1m26 0h1m54 0h1m3 0h1m11 0h1m-107 1h1m2 0h1m23 0h1m45 0h1m7 0h1m20 0h1m-100 1h1m1 0h1m23 0h1m43 0h1m4 0h1m12 0h1m12 0h1m-109 1h1m16 0h1m3 0h1m4 0h1m1 0h1m79 0h1m3 0h1m-91 1h1m71 0h1m-89 1h1m3 0h1m1 0h1m73 0h1m5 0h1m-67 1h1m4 0h1m59 0h1m2 0h1m8 0h1m-102 1h1m11 0h1m2 0h1m12 0h1m1 0h1m52 0h1m10 0h1m2 0h1m5 0h1m5 0h1m-105 1h1m13 0h2m55 0h2m10 0h1m11 0h2m2 0h1m3 0h1m-102 1h1m1 0h1m21 0h1m6 0h1m46 0h1m10 0h1m3 0h1m3 0h1m-100 1h1m4 0h1m27 0h1m44 0h1m7 0h1m15 0h1m-93 1h1m79 0h1m11 0h1m1 0h1m-112 1h1m8 0h1m22 0h1m2 0h1m76 0h1m-101 1h1m3 0h1m16 0h1m25 0h1m23 0h1m15 0h1m10 0h1m-96 1h1m12 0h1m9 0h1m41 0h1m8 0h1m-85 1h1m13 0h1m1 0h1m12 0h1m6 0h2m38 0h1m5 0h1m4 0h1m13 0h1m3 0h1m-32 1h1m23 0h1m-72 1h1m6 0h1m37 0h1m7 0h1m-75 1h1m12 0h1m11 0h1m40 0h1m6 0h1m3 0h1m3 0h1m1 0h1m15 0h1m-92 1h1m69 0h1m4 0h1m5 0h1m9 0h1m-110 1h1m96 0h1m10 0h1m-108 1h1m31 0h1m48 0h1m27 0h1m-72 1h1m1 0h1m46 0h1m-78 1h1m10 0h1m4 0h1m4 0h1m1 0h1m42 0h1m4 0h1m2 0h1m3 0h1m9 0h2m2 0h1m-101 1h1m13 0h1m3 0h1m78 0h1m-94 1h1m11 0h1m4 0h1m4 0h1m6 0h1m49 0h1m1 0h1m5 0h1m3 0h1m8 0h1m-103 1h1m3 0h1m4 0h1m94 0h1m2 0h1m-83 1h1m27 0h1m21 0h1m7 0h3m-75 1h1m63 0h1m3 0h1m-81 1h1m75 0h1m-78 1h1m5 0h1m15 0h1m8 0h1m42 0h1m16 0h1m11 0h1m-23 1h1m5 0h1m5 0h2m3 0h1m6 0h1m-92 1h1m60 0h1m6 0h1m-87 1h1m4 0h1m75 0h2m4 0h1m5 0h1m15 0h1m-108 1h1m18 0h1m10 0h1m5 0h1m2 0h1m58 0h1m-100 1h1m7 0h1m2 0h1m69 0h1m2 0h1m18 0h1m-103 1h2m25 0h1m5 0h1m47 0h1m2 0h1m5 0h1m3 0h1m3 0h1m-100 1h1m15 0h1m23 0h2m63 0h1m1 0h1m-106 1h2m7 0h1m6 0h1m6 0h1m12 0h1m48 0h1m19 0h1m4 0h1m-95 1h1m70 0h1m1 0h1m1 0h1m4 0h1m7 0h1m1 0h3m-103 1h1m28 0h1m51 0h4m9 0h1m5 0h1m-105 1h1m27 0h1m44 0h1m-67 1h1m10 0h1m14 0h1m2 0h1m62 0h1m-102 1h1m85 0h1m5 0h1m4 0h1m-75 1h1m59 0h1m10 0h1m9 0h1m2 0h1m-93 1h1m-18 1h1m12 0h1m82 0h1m13 0h1m-104 1h1m78 0h1m-59 1h1m4 0h1m3 0h1m3 0h1m44 0h1m14 0h2m1 0h1m-93 1h1m8 0h1m8 0h1m9 0h1m17 0h1m39 0h2m4 0h1m-105 1h1m14 0h1m70 0h1m6 0h1m14 0h1m-108 1h1m21 0h1m57 0h1m10 0h1m9 0h1m-92 1h1m73 0h1m11 0h1m-88 1h1m1 0h2m8 0h1m69 0h1m8 0h1m5 0h2m-104 1h1m2 0h1m4 0h1m14 0h1m49 0h1m5 0h1m5 0h1m12 0h1m6 0h1m-87 1h1m10 0h1m42 0h1m10 0h1m9 0h1m-88 1h1m22 0h1m71 0h2m2 0h1m-94 1h1m10 0h2m6 0h1m42 0h1m14 0h1m6 0h1m3 0h1m2 0h1m-104 1h1m73 0h1m6 0h1m6 0h1m5 0h1m6 0h1m-101 1h1m2 0h1m16 0h1m49 0h1m13 0h1m3 0h1m11 0h1m-95 1h1m12 0h1m51 0h1m6 0h1m-74 1h1m28 0h1m37 0h1m5 0h1m2 0h1m3 0h1m3 0h1m-92 1h1m3 0h1m1 0h1m11 0h1m4 0h1m48 0h1m1 0h1m4 0h1m6 0h1m6 0h1m-92 1h1m15 0h1m54 0h1m1 0h1m12 0h1m-91 1h1m8 0h1m2 0h1m2 0h2m4 0h1m1 0h1m31 0h1m26 0h1m7 0h1m18 0h1m-113 1h2m26 0h1m2 0h1m44 0h1m33 0h1m1 0h1m-90 1h1m60 0h1m5 0h1m-77 1h1m81 0h1m-83 1h1m17 0h1m48 0h1m11 0h1m-74 1h1m6 0h1m30 0h1m24 0h1m12 0h1m15 0h1m-101 1h1m15 0h1m7 0h1m51 0h2m2 0h1m13 0h1m-73 1h1m44 0h1m10 0h1m4 0h1m2 0h1m-79 1h1m56 0h1m5 0h1m14 0h1m5 0h1m-85 1h1m14 0h1m40 0h1m12 0h1m5 0h1m2 0h1m-94 1h1m80 0h1m13 0h1m-98 1h1m8 0h1m64 0h2m3 0h1m20 0h1m-102 1h1m13 0h1m5 0h1m59 0h1m2 0h1m14 0h1m6 0h1m-98 1h1m19 0h1m7 0h1m37 0h1m14 0h1m8 0h1m-91 1h1m14 0h2m6 0h3m5 0h1m40 0h1m9 0h2m5 0h1m5 0h1m5 0h1m-108 1h2m6 0h1m2 0h1m3 0h1m62 0h1m14 0h1m-94 1h1m4 0h1m3 0h1m4 0h1m2 0h1m7 0h1m64 0h1m5 0h1m3 0h1m-74 1h1m26 0h1m23 0h4m18 0h1m-65 1h1m40 0h1m13 0h1m9 0h1m-101 1h1m1 0h1m5 0h1m20 0h1m3 0h1m2 0h1m38 0h1m-82 1h1m12 0h1m22 0h1m1 0h1m57 0h1m11 0h1m-107 1h1m34 0h1m43 0h1m1 0h1m7 0h1m-62 1h1m47 0h1m25 0h1m-96 1h1m28 0h2m1 0h1m-20 1h2m65 0h1m-86 1h1m8 0h1m25 0h1m19 0h1m18 0h1m12 0h1m3 0h1m-18 1h2m10 0h1m2 0h1m7 0h1m-90 1h1m13 0h1m71 0h1m10 0h1m-105 1h1m1 0h1m10 0h1m4 0h1m68 0h1m5 0h1m4 0h1m9 0h1m-95 1h2m3 0h1m4 0h1m29 0h1m18 0h1m22 0h1m11 0h1m-109 1h1m10 0h1m21 0h1m1 0h1m45 0h1m13 0h1m-67 1h1m61 0h1m3 0h1m8 0h1m-23 1h1m-84 1h1m28 0h1m4 0h1m20 0h1m20 0h1m3 0h1m19 0h1m5 0h1m-84 1h1m50 0h1m3 0h1m19 0h1m-94 1h1m4 0h1m7 0h1m15 0h1m44 0h1m9 0h1m5 0h1m6 0h1m-100 1h1m8 0h1m60 0h1m16 0h1m8 0h1m1 0h1m3 0h1m-110 1h1m16 0h1m17 0h1m5 0h1m53 0h1m1 0h1m2 0h1m10 0h1m-104 1h1m24 0h1m69 0h1m7 0h1m-24 1h1m17 0h1m-98 1h2m24 0h1m1 0h1m2 0h1m53 0h1m8 0h1m-102 1h1m18 0h1m79 0h1m3 0h1m3 0h1m-106 1h1m16 0h1m16 0h1m42 0h1m7 0h1m18 0h1m-89 1h1m3 0h1m1 0h2m5 0h1m5 0h1m45 0h1m14 0h1m-101 1h1m16 0h1m86 0h1m2 0h1m-91 1h1m1 0h1m13 0h1m25 0h1m39 0h1m7 0h1m4 0h1m-89 1h1m14 0h1m39 0h1m10 0h1m21 0h1m-95 1h1m12 0h1m50 0h1m2 0h1m3 0h1m4 0h1m5 0h1m4 0h1m6 0h1m-101 1h1m1 0h1m1 0h1m1 0h1m11 0h1m59 0h1m6 0h2m1 0h1m2 0h1m-95 1h1m7 0h1m1 0h1m5 0h1m52 0h1m5 0h1m1 0h1m9 0h1m13 0h1m-89 1h1m2 0h1m14 0h1m36 0h1m3 0h1m25 0h1m-104 1h2m2 0h1m9 0h1m5 0h2m5 0h1m47 0h1m10 0h1m5 0h1m5 0h1m2 0h1m-98 1h1m7 0h1m13 0h1m60 0h2m-90 1h1m4 0h1m1 0h1m71 0h1m23 0h1m3 0h1m-86 1h2m51 0h1m20 0h1m2 0h1m5 0h1m-90 1h1m10 0h1m1 0h1m5 0h1m49 0h1m17 0h1m4 0h3m-105 1h1m10 0h1m15 0h1m41 0h1m7 0h1m13 0h1m8 0h1m-68 1h1m56 0h1m7 0h1m2 0h1m-83 1h1m10 0h1m70 0h1m-99 1h1m11 0h1m12 0h1m49 0h1m2 0h1m-74 1h1m79 0h1m3 0h1m-100 1h1m14 0h1m4 0h1m2 0h1m16 0h1m-24 1h1m64 0h1m7 0h1m5 0h1m-73 1h1m1 0h1m11 0h1m37 0h1m24 0h1m6 0h1m-107 1h1m30 0h1m3 0h1m1 0h1m42 0h1m5 0h1m5 0h1m2 0h1m-92 1h1m31 0h1m36 0h1m7 0h1m-79 1h1m3 0h1m1 0h1m8 0h1m7 0h1m69 0h1m1 0h1m-93 1h1m14 0h1m10 0h1m4 0h1m41 0h1m14 0h1m5 0h1m-87 1h1m73 0h1m3 0h1m4 0h1m11 0h1m-114 1h1m4 0h1m8 0h1m9 0h1m1 0h1m8 0h1m52 0h1m1 0h2m2 0h1m15 0h1m2 0h1m-112 1h1m5 0h1m18 0h1m5 0h1m44 0h1m-76 1h1m2 0h1m17 0h1m55 0h1m-78 1h2m8 0h1m7 0h1m90 0h1m-99 1h1m9 0h1m14 0h1m39 0h1m1 0h1m6 0h1m8 0h1m6 0h1m-79 1h2m84 0h1m-112 1h1m14 0h1m5 0h1m58 0h1m13 0h1m4 0h1m4 0h1m-102 1h1m9 0h1m64 0h1m10 0h1m4 0h1m2 0h1m3 0h1m-85 1h1m7 0h2m8 0h1m22 0h1m17 0h1m24 0h1m8 0h1m-111 1h1m7 0h1m6 0h1m10 0h1m6 0h1m5 0h1m49 0h1m4 0h1m2 0h1m6 0h1m-93 1h1m23 0h1m2 0h1m52 0h2m6 0h1m-100 1h1m33 0h1m-28 1h1m7 0h1m4 0h1m2 0h1m70 0h1m-96 1h1m6 0h1m68 0h1m11 0h1m5 0h2m3 0h1m-60 1h1m35 0h1m3 0h1m3 0h1m9 0h1m3 0h1m4 0h1m-80 1h1m62 0h1m8 0h1m1 0h1m2 0h1m9 0h1m-107 1h1m80 0h1m2 0h1m-77 1h1m7 0h1m78 0h2m3 0h1m-71 1h1m-32 1h1m13 0h1m10 0h1m5 0h1m3 0h1m40 0h1m1 0h1m1 0h1m17 0h1m1 0h1m-102 1h1m33 0h1m3 0h1m63 0h1m-71 1h1m72 0h1m-68 1h1m42 0h1m1 0h1m4 0h1m10 0h1m9 0h1m-113 1h1m26 0h1m4 0h1m46 0h1m25 0h1m-105 1h1m11 0h1m20 0h1m1 0h1m3 0h1m35 0h1m4 0h1m10 0h2m4 0h1m11 0h1m-89 1h1m13 0h1m3 0h1m42 0h1m1 0h1m7 0h1m2 0h1m11 0h1m-22 1h1m1 0h1m20 0h1m-108 1h1m13 0h1m1 0h1m9 0h1m9 0h1m18 0h1m26 0h1m10 0h1m9 0h1m5 0h1m-111 1h1m17 0h1m66 0h1m2 0h1m6 0h1m4 0h1m-72 1h1m49 0h1m2 0h1m11 0h1m8 0h1m-87 1h1m3 0h1m12 0h1m1 0h1m19 0h1m20 0h1m3 0h1m9 0h1m15 0h1m-100 1h1m7 0h1m6 0h1m77 0h1m-68 1h1m62 0h1m3 0h1m1 0h2m-100 1h1m70 0h1m1 0h1m3 0h3m-73 1h1m65 0h1m6 0h1m-74 1h1m2 0h1m72 0h1m5 0h1m10 0h1m-96 1h1m14 0h1m7 0h1m44 0h1m8 0h1m13 0h1m-69 1h1m44 0h1m1 0h1m7 0h1m8 0h2m4 0h1m5 0h1m-83 1h1m28 0h1m37 0h1m2 0h1m4 0h1m-105 1h1m20 0h1m9 0h1m1 0h2m6 0h1m16 0h1m25 0h1m-68 1h1m16 0h1m51 0h2m5 0h1m3 0h1m-76 1h3m55 0h1m29 0h1m-110 1h1m11 0h1m27 0h1m40 0h1m26 0h1m-111 1h1m15 0h1m61 0h1m27 0h1m-105 1h1m5 0h1m21 0h1m1 0h1m58 0h1m2 0h1m5 0h1m7 0h1m3 0h1m-98 1h1m6 0h1m12 0h1m58 0h1m8 0h1m-80 1h1m34 0h1m18 0h1m8 0h2m8 0h1m-90 1h1m3 0h1m10 0h1m54 0h1m4 0h1m6 0h1m3 0h1m1 0h1m-97 1h2m21 0h1m6 0h1m11 0h1m47 0h1m13 0h1m6 0h1m-108 1h1m25 0h1m59 0h1m1 0h1m-93 1h1m3 0h2m9 0h1m83 0h1m-96 1h1m74 0h1m24 0h3m-17 1h1m-74 1h1m4 0h1m54 0h1m18 0h1m1 0h1m-98 1h1m16 0h1m8 0h1m-21 1h1m4 0h1m46 0h1m25 0h1m3 0h1m5 0h1m3 0h1m7 0h1m4 0h1m-109 1h1m21 0h1m3 0h1m-28 1h1m28 0h1m3 0h1m54 0h1m10 0h1m-102 1h1m25 0h1m66 0h1m8 0h1m1 0h1m-101 1h2m32 0h1m38 0h1m14 0h1m11 0h1m-86 1h1m-7 1h1m4 0h1m5 0h1m33 0h1m30 0h1m8 0h1m1 0h2m1 0h1m-102 1h1m1 0h1m2 0h1m8 0h1m-18 1h1m5 0h1m4 0h2m10 0h1m5 0h1m-3 1h1m4 0h1m26 0h1m17 0h1m6 0h1m14 0h1m3 0h1m-98 1h1m22 0h1m11 0h1m70 0h1m-79 1h1m48 0h1m2 0h1m26 0h1m-105 1h1m18 0h1m54 0h1m10 0h1m2 0h1m9 0h1m-106 1h1m3 0h1m6 0h1m9 0h1m59 0h1m15 0h1m4 0h1m6 0h2m-113 1h1m17 0h1m6 0h1m14 0h1m41 0h1m1 0h1m2 0h1m12 0h1m-83 1h1m3 0h1m5 0h1m77 0h1m-102 1h1m12 0h1m10 0h2m58 0h1m7 0h1m11 0h1m-104 1h1m3 0h1m25 0h1m47 0h1m3 0h1m-70 1h1m6 0h1m3 0h1m4 0h1m5 0h1m62 0h1m-90 1h1m8 0h1m8 0h1m54 0h1m6 0h1m-90 1h1m1 0h1m68 0h1m2 0h1m9 0h1m15 0h1m3 0h1m-110 1h1m9 0h1m8 0h1m8 0h1m52 0h1m8 0h1m19 0h1m1 0h1m-97 1h1m1 0h2m6 0h1m53 0h1m-62 1h1m1 0h1m59 0h1m1 0h1m1 0h1m26 0h1m-14 1h1m3 0h1m1 0h2m2 0h1m-110 1h1m4 0h1m14 0h1m5 0h1m1 0h1m6 0h1m41 0h1m7 0h1m25 0h1m-111 1h1m82 0h1m4 0h1m-71 1h1m4 0h1m15 0h1m35 0h1m4 0h1m13 0h2m7 0h1m-104 1h1m8 0h1m8 0h1m73 0h1m12 0h1m-84 1h1m11 0h1m4 0h1m-33 1h1m15 0h1m52 0h1m12 0h1m5 0h1m3 0h1m-61 1h1m50 0h1m7 0h1m6 0h1m-93 1h1m15 0h1m8 0h1m39 0h1m10 0h1m4 0h1m-12 1h1m6 0h1m14 0h1m3 0h1m-94 1h1m1 0h1m6 0h1m12 0h1m39 0h1m5 0h1m8 0h1m2 0h1m-95 1h1m8 0h1m7 0h1m7 0h1m4 0h1m55 0h1m6 0h1m14 0h1m-113 1h1m21 0h1m2 0h1m1 0h1m1 0h1m7 0h1m43 0h1m3 0h1m13 0h1m-98 1h1m2 0h1m14 0h1m1 0h1m68 0h1m3 0h1m3 0h1m-85 1h1m43 0h1m46 0h1m-73 1h1m5 0h1m1 0h1m16 0h1m33 0h1m-87 1h1m10 0h1m4 0h4m5 0h1m50 0h1m15 0h1m3 0h1m9 0h1m-111 1h1m7 0h1m4 0h1m4 0h1m17 0h1m37 0h1m3 0h1m-81 1h2m1 0h1m8 0h1m2 0h1m69 0h1m1 0h1m8 0h1m4 0h1m1 0h1m-99 1h1m32 0h1m37 0h1m11 0h1m14 0h2m2 0h1m-105 1h1m77 0h1m9 0h1m2 0h1m14 0h1m-102 1h1m9 0h2m21 0h1m47 0h1m-85 1h1m17 0h1m70 0h1m12 0h1m3 0h1m-87 1h1m9 0h1m55 0h1m3 0h1m5 0h1m-102 1h1m19 0h1m73 0h1m9 0h2m-103 1h1m6 0h1m2 0h1m12 0h1m14 0h1m46 0h1m5 0h1m14 0h1m-94 1h2m1 0h1m69 0h1m2 0h1m-93 1h1m5 0h3m19 0h1m49 0h1m11 0h1m4 0h1m2 0h1m-21 1h1m6 0h1m9 0h1m-88 1h1m8 0h1m4 0h1m16 0h1m44 0h2m18 0h1m-103 1h1m21 0h1m5 0h1m46 0h1m27 0h1m5 0h1m-92 1h1m17 0h1m1 0h1m42 0h1m27 0h1m-102 1h1m28 0h1m44 0h1m18 0h2m4 0h1m2 0h1m-114 1h1m76 0h1m6 0h1m21 0h1m-84 1h1m7 0h1m7 0h1m48 0h1m5 0h1m1 0h3m8 0h1m-104 1h1m16 0h1m2 0h1m52 0h1m4 0h1m6 0h1m7 0h1m11 0h1m-99 1h1m6 0h1m2 0h1m11 0h1m46 0h1m3 0h1m5 0h1m4 0h1m5 0h1m6 0h1m3 0h1m-32 1h1m9 0h1m10 0h1m5 0h2m1 0h1m-104 1h1m1 0h1m4 0h1m9 0h1m6 0h1m60 0h1m7 0h1m7 0h1m-99 1h1m68 0h1m9 0h1m7 0h2m10 0h1m-110 1h1m17 0h1m19 0h1m39 0h1m7 0h1m7 0h1m-74 1h1m5 0h1m-27 1h1m2 0h1m5 0h1m76 0h1m-71 1h1m2 0h1m5 0h2m70 0h1m9 0h1m2 0h1m-79 1h1m42 0h2m14 0h1m1 0h2m2 0h1m6 0h1m3 0h1m-96 1h1m8 0h1m65 0h1m3 0h1m-67 1h1m1 0h1m9 0h1m51 0h1m12 0h1m-80 1h1m61 0h1m3 0h1m11 0h1m2 0h1m-81 1h1m14 0h1m50 0h1m8 0h1m1 0h1m-100 1h1m23 0h1m1 0h2m-22 1h1m15 0h1m73 0h1m-102 1h1m2 0h1m76 0h1m11 0h1m-83 1h1m10 0h1m55 0h1m20 0h1m9 0h1m-108 1h1m6 0h1m8 0h1m3 0h1m56 0h1m23 0h1m-81 1h1m36 0h1m26 0h1m15 0h1m4 0h1m2 0h1m1 0h1m-111 1h1m12 0h1m15 0h1m4 0h1m48 0h1m4 0h1m8 0h2m-93 1h1m15 0h1m5 0h1m2 0h1m50 0h1m15 0h1m12 0h1m-104 1h1m91 0h1m-87 1h1m42 0h1m33 0h1m-74 1h1m7 0h1m49 0h1m3 0h1m17 0h1m-96 1h1m27 0h1m56 0h2m4 0h1m3 0h1m-78 1h1m17 0h1m65 0h1m5 0h1m-113 1h1m20 0h1m1 0h1m54 0h1m30 0h1m-89 1h1m16 0h1m38 0h1m11 0h2m10 0h2m7 0h1m-108 1h1m19 0h1m4 0h1m48 0h1m20 0h1m2 0h1m-77 1h1m7 0h1m5 0h1m51 0h1m11 0h1m-95 1h1m2 0h1m22 0h1m57 0h1m6 0h1m-99 1h1m26 0h1m9 0h1m54 0h1m-89 1h1m16 0h1m66 0h1m5 0h1m10 0h1m-100 1h1m18 0h1m58 0h1m-87 1h1m78 0h1m1 0h1m13 0h1m6 0h1m8 0h1m-100 1h1m4 0h2m-1 1h1m3 0h1m2 0h1m4 0h1m2 0h1m66 0h2m-90 1h1m17 0h1m57 0h1m7 0h1m13 0h1m-85 1h1m6 0h1m52 0h1m19 0h1m-103 1h1m5 0h1m15 0h1m14 0h1m58 0h1m-100 1h1m29 0h1m45 0h1m2 0h1m6 0h1m19 0h1m-76 1h1m49 0h1m5 0h1m1 0h1m14 0h1m-82 1h1m54 0h4m6 0h1m5 0h2m5 0h1m7 0h2m-88 1h1m4 0h1m4 0h1m45 0h1m25 0h1m-81 1h1m49 0h1m13 0h1m3 0h1m5 0h1m-97 1h1m23 0h1m59 0h1m14 0h1m5 0h1m-106 1h1m5 0h1m16 0h1m1 0h1m11 0h1m43 0h1m-84 1h1m5 0h1m67 0h1m2 0h1m-72 1h1m3 0h1m22 0h1m71 0h1m-71 1h1m39 0h1m-79 1h1m19 0h1m19 0h1m1 0h1m38 0h1m2 0h1m5 0h2m-91 1h1m10 0h1m19 0h1m50 0h1m6 0h1m-81 1h1m26 0h1m42 0h1m3 0h1m1 0h1m4 0h2m7 0h1m-96 1h1m9 0h1m63 0h1m3 0h1m8 0h1m-90 1h1m5 0h1m1 2h1m6 0h1m8 0h1m10 0h1m39 0h1m26 0h1m-97 1h2m89 0h1m5 0h1m-101 1h1m5 0h1m1 0h1m17 0h1m2 0h1m23 0h1m42 0h1m-99 1h1m1 0h1m17 0h1m4 0h1m29 0h1m18 0h1m14 0h1m-81 1h1m71 0h1m12 0h1m10 0h1m-106 1h1m2 0h1m82 0h1m-86 1h1m7 0h1m10 0h1m9 0h1m74 0h1m-108 1h1m11 0h1m2 0h1m21 0h2m44 0h2m-73 1h1m22 0h1m40 0h1m5 0h1m3 0h1m3 0h1m10 0h1m-102 1h1m9 0h2m71 0h1m9 0h1m5 0h1m6 0h1m-91 1h1m67 0h1m24 0h1m-112 1h1m20 0h1m60 0h1m11 0h1m6 0h1m-1 1h1m7 0h1m-98 1h1m5 0h1m60 0h1m16 0h1m-81 1h1m79 0h1m-71 1h1m7 0h1m-31 1h1m11 0h1m12 0h1m70 0h1m-74 1h1m7 0h1m1 0h1m42 0h1m5 0h1m13 0h1m-99 2h1m24 0h1m74 0h1m2 0h3m-103 1h1m5 0h1m30 0h1m59 0h1m3 0h1m-99 1h1m11 0h1m4 0h2m2 0h1m60 0h1m20 0h1m-106 1h1m3 0h1m11 0h1m54 0h2m6 0h1m4 0h1m-69 1h2m1 0h1m51 0h2m13 0h1m10 0h1m2 0h1m-78 1h1m10 0h1m69 0h1m-110 1h1m92 0h1m-83 1h1m13 0h1m3 0h1m8 0h1m-38 1h1m56 0h1m33 0h1m10 0h1m-88 1h1m67 0h1m6 0h1m-3 1h1m1 0h1m1 0h1m17 0h1m-74 1h1m72 0h1m-110 1h1m6 0h1m7 0h1m12 0h1m4 0h1m4 0h1m70 0h1m-106 1h1m8 0h1m16 0h1m6 0h1m45 0h1m-61 1h1m59 0h1m-68 1h1m68 0h1m5 0h1m9 0h1m6 0h1m-111 1h1m17 0h1m11 0h1m2 0h1m53 0h1m5 0h1m9 0h1m-100 1h1m6 0h1m4 0h1m7 0h1m56 0h1m22 0h1m2 0h1m-109 1h1m14 0h1m24 0h1m52 0h1m11 0h1m2 0h1m-106 1h1m6 0h1m8 0h1m11 0h1m2 0h1m4 0h1m1 0h1m51 0h1m11 0h1m-106 1h1m1 0h1m13 0h1m3 0h1m10 0h1m9 0h1m41 0h1m-75 1h1m2 0h1m3 0h1m3 0h1m1 0h1m4 0h1m55 0h1m-75 1h1m2 0h1m3 0h2m1 0h1m3 0h2m1 0h2m2 0h1m5 0h1m5 0h1m-42 1h1m6 0h1m2 0h1m9 0h1m1 0h2m2 0h1m4 0h1m5 0h1m-32 1h1m17 0h1m11 0h1m-38 1h1m6 0h1m14 0h1m2 0h1m-22 1h1m23 0h1m9 0h1"/><path stroke="#d700ff" d="M195 32h1m30 0h3m43 0h1m22 0h1m-87 1h1m-12 1h2m11 0h1m17 1h1m69 0h2m-97 1h1m12 0h1m64 0h1m-60 1h1m80 0h1m-109 1h2m18 0h1m16 1h1m-36 1h1m29 1h1m-24 1h1m5 0h1m12 0h1m-30 1h2m84 0h1m-79 1h1m26 0h1m5 0h1m-15 2h1m-16 1h1m87 0h1m-77 1h1m84 0h1m-108 1h1m8 1h1m-8 2h1m37 0h1m-12 2h1m46 0h1m11 1h1m-68 1h1m5 0h1m4 0h1m-28 2h1m12 1h1m-20 1h1m39 2h1m42 0h1m-77 1h1m24 0h1m5 0h1m37 0h1m-57 1h1m16 0h1m-35 1h1m94 0h1m-76 1h1m-7 1h1m8 0h1m-23 2h1m85 0h1m-85 1h1m11 0h1m4 0h1m5 0h1m68 0h1m-90 1h1m6 0h1m18 2h1m-9 2h1m-9 1h1m-11 1h1m24 0h1m59 2h1m-61 1h1m1 0h1m-15 1h1m68 1h1m-88 1h1m93 0h1m-64 1h1m-35 1h1m34 0h1m-38 1h1m19 0h1m12 0h1m-27 1h1m14 0h1m-16 1h1m21 0h1m72 0h1m-61 1h1m-32 1h1m78 0h1m-77 1h1m12 0h1m3 0h1m9 0h1m-42 1h1m18 1h1m-3 1h1m6 0h1m10 2h1m41 0h1m-74 1h1m28 0h1m7 0h1m-26 2h1m9 0h1m57 1h1m-46 1h1m1 0h1m-39 1h2m21 0h1m-2 2h1m-26 1h1m19 1h1m9 0h1m58 0h1m-52 2h1m-38 1h1m28 1h1m0 1h1m56 2h1m-61 1h1m49 0h1m-37 1h1m16 0h1m34 1h1m12 0h1m-104 1h1m14 0h1m83 1h1m-78 1h1m-23 1h1m16 0h1m-13 1h1m15 0h1m2 0h1m11 0h1m-27 1h1m15 3h1m50 0h1m2 1h1m-51 1h1m-28 1h1m90 0h1m-82 1h1m-1 1h1m7 0h1m58 1h1m-48 1h1m-5 3h1m48 0h1m23 1h1m-94 1h1m2 1h1m10 0h1m2 1h1m-4 2h1m3 0h1m77 0h1m-105 1h2m31 1h1m-16 2h1m11 0h1m6 2h1m43 2h1m-86 2h1m0 1h1m5 0h1m7 0h1m6 1h1m0 1h1m7 0h1m-16 1h1m7 0h1m10 2h2m2 1h1m-39 1h1m9 1h1m4 2h1m92 0h1m-86 2h1m78 0h1m-84 1h2m4 1h1m73 0h1m-101 1h1m10 1h1m22 0h1m-14 1h1m-2 1h1m73 0h1m-79 1h1m24 0h1m43 1h1m2 0h1m11 1h1m-97 1h1m7 0h1m1 0h1m4 0h1m12 0h1m3 0h1m65 0h1m-98 1h1m80 0h1m16 0h1m-69 1h1m69 0h1m-16 1h1m-59 2h1m2 0h1m44 0h1m11 0h1m-70 1h1m17 0h1m-35 1h1m-3 2h1m20 0h1m7 0h1m-14 1h1m-20 1h1m13 0h1m1 0h1m1 0h1m20 0h1m-37 1h1m94 0h1m-102 1h1m18 0h1m19 1h1m-20 1h1m1 1h1m14 1h1m-8 1h1m2 0h1m53 0h1m24 0h1m-100 1h1m-13 4h1m23 2h1m-5 1h1m-3 1h1m5 0h1m-12 1h1m22 0h1m0 1h1m-11 2h1m1 0h1m5 0h2m56 0h1m-93 4h1m2 0h1m1 0h1m77 0h1m25 0h1m-110 4h1m3 0h1m19 0h1m81 0h1m-24 1h1m-80 1h1m70 1h1m-76 1h1m56 0h1m-39 2h1m59 0h1m-48 1h1m1 1h1m50 1h1m20 1h1m-104 3h1m2 0h1m17 0h1m12 1h1m-13 1h1m-10 1h1m17 3h1m-13 1h1m4 1h1m11 0h1m65 0h1m-85 1h1m-8 3h1m68 0h1m25 0h1m-12 1h1m-94 2h1m14 0h1m2 0h1m16 0h1m-38 1h1m3 0h1m31 1h1m-13 2h1m-25 1h1m89 0h1m17 0h1m-103 1h1m5 2h1m2 0h1m0 1h1m-20 2h1m0 1h1m3 0h1m31 0h1m-20 1h1m10 1h1m-18 1h1m8 0h2m56 0h1m4 0h1m-72 1h1m5 0h1m88 0h1m-99 1h1m0 1h1m10 1h1m5 1h1m28 0h1m-20 4h1m-28 1h1m63 1h1m-42 1h1m52 0h1m-52 2h1m2 1h1m59 0h1m-97 2h1m1 0h1m6 0h1m13 0h1m54 0h1m-58 1h1m-17 1h1m-4 1h1m6 0h1m0 1h1m74 0h1m-90 1h1m23 1h1m7 0h1m-29 1h1m36 0h1m54 0h1m-94 1h1m31 0h1m3 0h1m62 1h1m-100 1h1m26 0h1m-2 1h1m6 0h1m-31 1h2m17 0h1m-24 2h1m5 0h1m-10 1h1m29 0h2m-28 1h1m27 0h1m70 1h1m-102 1h1m15 0h1m66 0h1m-83 1h1m21 0h1m60 0h1m-72 1h1m16 0h1m72 1h1m-73 1h1m-28 1h1m21 0h1m58 1h1m12 0h1m-96 1h1m8 0h1m20 0h1m53 0h1m-63 2h1m14 0h1m-33 2h1m3 0h1m-15 1h1m38 0h1m44 0h1m-71 1h1m3 0h1m83 0h1m-101 1h1m86 0h1m-53 1h1m-28 3h2m-12 1h1m12 0h1m45 0h1m-48 1h1m13 0h1m-25 2h1m22 3h1m12 0h1m63 0h1m-70 1h1m-34 1h1m0 2h1m14 0h1m23 0h2m46 1h1m23 0h1m-87 2h1m73 0h1m-83 1h1m5 0h1m-5 2h1m-8 2h1m4 0h1m-7 1h1m-4 1h1m102 0h1m-113 1h1m34 3h1m54 0h1m-63 1h1m6 1h1m-26 1h1m5 0h1m22 0h1m-35 1h1m5 0h1m7 0h1m1 1h1m15 1h1m-37 1h1m10 0h1m22 3h1m-2 1h1m55 0h1m-85 1h1m28 0h1m-34 1h2m87 0h1m-86 1h2m14 1h1m-3 1h1m12 0h1m1 0h1m56 0h1m-91 1h1m32 0h1m-35 3h1m26 0h1m9 0h1m-28 1h1m21 1h1m1 0h1m-36 1h1m4 0h1m23 1h1m52 0h1m-77 2h1m-2 1h1m5 0h1m67 0h1m-74 3h1m24 0h1m-29 1h1m23 1h1m82 0h1m-106 1h1m89 0h1m-68 1h1m-27 1h1m33 0h1m44 3h1m-41 1h1m68 0h1m-102 1h1m-9 2h1m34 0h1m-16 2h1m6 1h1m4 1h1m-18 1h1m15 0h1m-22 1h1m24 0h1m-16 3h1m-7 1h1m43 1h1m-22 1h1m-38 2h1m4 0h1m2 1h1m79 1h1m-64 1h1m-6 1h1m69 1h1m-82 1h1m26 0h1m-10 2h2m-6 1h1m-23 1h1m4 1h1m18 2h1m-1 1h1m7 0h1m-32 1h1m10 0h1m-14 3h1m24 1h1m-10 3h1m9 2h1m4 1h1m-5 2h1"/><path stroke="#d800d8" d="M207 32h1m1 0h1m11 0h1m1 0h1m54 0h1m7 0h1m9 0h1m1 0h1m4 0h2m-105 1h1m21 0h1m11 0h1m42 0h1m5 0h1m-71 1h1m7 0h1m60 0h1m5 0h1m6 0h1m11 0h1m-113 1h1m9 0h1m25 0h1m49 0h1m3 0h1m22 0h1m-113 1h1m8 0h1m10 0h1m66 0h1m6 0h1m8 0h2m-74 1h1m-24 1h1m5 0h1m68 0h1m6 0h1m-9 1h1m15 0h2m2 0h1m4 0h1m-107 1h1m1 0h1m6 0h1m12 0h1m11 0h1m3 0h1m1 0h1m60 0h1m-99 1h1m12 0h1m13 0h1m48 0h1m3 0h1m3 0h1m6 0h1m2 0h1m2 0h1m-99 1h1m26 0h1m51 0h1m2 0h1m-61 1h1m57 0h2m4 0h1m13 0h2m-106 1h1m2 0h1m7 0h1m11 0h1m2 0h1m63 0h1m19 0h1m-105 1h1m8 0h1m11 0h1m2 0h1m5 0h1m47 0h1m13 0h1m-99 1h1m8 0h1m10 0h1m1 0h1m58 0h1m18 0h1m2 0h1m5 0h1m-109 1h1m18 0h1m8 0h1m2 0h1m9 0h1m36 0h1m16 0h1m12 0h1m-29 1h1m25 0h1m-101 1h1m14 0h1m10 0h1m51 0h1m4 0h1m-55 1h1m4 0h1m40 0h1m3 0h1m4 0h1m1 0h1m19 0h1m-113 1h1m5 0h1m73 0h1m2 0h1m26 0h1m-95 1h1m6 0h1m62 0h1m-85 1h1m2 0h1m1 0h1m7 0h1m60 0h1m2 0h1m-74 1h1m10 0h1m21 0h1m40 0h1m31 0h1m-99 1h3m21 0h1m40 0h1m27 0h1m3 1h1m-101 1h1m9 0h1m2 0h1m76 0h1m9 0h1m-112 1h1m10 0h1m1 0h1m22 0h1m46 0h1m9 0h2m17 0h1m-113 1h2m3 0h1m12 0h1m6 0h1m6 0h1m1 0h1m47 0h1m5 0h1m-69 1h1m55 0h1m2 0h1m3 0h1m4 0h1m1 0h2m-89 1h1m3 0h1m6 0h1m69 0h1m1 0h1m23 0h1m1 0h1m-112 1h1m12 0h1m12 0h1m3 0h1m9 0h1m46 0h1m8 0h1m-90 1h1m7 0h1m9 0h1m50 0h1m21 0h1m-88 1h1m26 0h1m49 0h1m-85 1h1m4 0h1m4 0h1m4 0h1m7 0h1m56 0h1m14 0h1m1 0h1m4 0h1m-107 1h1m20 0h1m11 0h1m44 0h1m10 0h1m3 0h1m-92 1h2m7 0h1m5 0h1m13 0h1m54 0h1m4 0h1m5 0h1m-81 1h1m18 0h1m49 0h1m-70 1h1m17 0h1m4 1h1m35 0h1m19 0h1m7 0h1m-103 1h1m14 0h1m1 0h1m12 0h1m45 0h1m19 0h1m5 0h1m4 0h1m-85 1h1m12 0h1m39 0h1m13 0h1m5 0h1m-59 1h1m41 0h1m3 0h1m-69 1h1m15 0h1m58 0h1m-65 1h1m7 0h2m60 0h1m9 0h1m-109 1h2m6 0h1m12 0h1m64 0h1m-83 2h1m25 0h1m45 0h1m28 0h1m-95 1h1m9 0h1m14 0h1m45 0h1m18 0h1m-24 1h1m1 0h1m-68 1h1m15 0h1m62 0h1m5 0h1m-95 1h1m6 0h1m25 0h1m64 0h1m-68 1h1m39 0h1m6 0h1m22 0h1m-106 1h1m19 0h1m55 0h1m15 0h1m4 0h1m6 0h1m3 0h1m-106 1h1m5 0h1m1 0h1m9 0h1m17 0h1m36 0h1m4 0h1m13 0h1m11 0h1m-95 1h1m18 0h2m45 0h1m-54 1h1m2 0h1m6 0h1m46 0h3m3 0h1m-60 1h1m45 0h1m20 0h1m-98 1h3m15 0h1m7 0h1m60 0h2m16 0h1m2 0h1m-21 1h1m13 0h1m7 0h1m-114 1h1m27 0h1m78 0h1m-95 1h1m21 0h1m48 0h1m1 0h1m15 0h1m9 0h1m-28 1h1m11 0h1m3 0h1m2 0h1m-92 1h1m4 0h1m3 0h1m-21 1h1m14 0h1m23 0h1m48 0h1m13 0h1m2 0h1m-104 1h1m22 0h1m6 0h1m1 0h1m41 0h1m12 0h1m-60 1h1m4 0h1m45 0h1m11 0h1m7 0h1m4 0h1m-75 1h1m1 0h1m1 0h2m67 0h1m-100 1h1m73 0h1m-77 1h1m14 0h1m16 0h1m57 0h1m2 0h1m-76 1h1m6 0h1m62 0h1m1 0h1m7 0h1m4 0h1m-74 1h1m45 0h1m21 0h1m6 0h1m-87 1h1m8 0h1m59 0h1m-89 1h1m9 0h1m1 0h1m69 0h1m-62 1h1m60 0h1m16 0h1m-100 1h1m81 0h1m3 0h1m5 0h1m3 0h1m9 0h1m-92 1h1m20 0h1m-31 1h1m8 0h1m55 0h1m7 0h1m-68 1h1m59 0h1m27 0h1m-99 1h1m5 0h1m7 0h1m55 0h1m25 0h1m-90 1h1m21 0h1m39 0h1m24 0h1m3 0h1m1 0h1m4 0h1m-104 1h1m87 0h1m6 0h1m-78 1h1m68 0h1m5 0h1m3 0h1m-77 1h1m52 0h1m7 0h1m-77 1h1m8 0h1m82 0h1m-101 1h1m12 0h1m5 0h1m58 0h1m26 0h1m-105 1h1m20 0h1m54 0h2m3 0h1m13 0h1m-102 1h1m15 0h1m15 0h1m-32 1h1m12 0h1m5 0h2m-17 1h1m71 0h1m6 0h2m-87 1h1m2 0h1m12 0h1m58 0h1m22 0h1m11 0h1m-108 1h1m9 0h1m2 0h1m6 0h1m51 0h1m33 0h1m-70 1h1m38 0h1m8 0h1m10 0h1m-78 1h1m14 0h1m59 0h1m-100 1h1m4 0h1m15 0h1m13 0h1m66 0h1m10 0h1m-109 1h1m5 0h1m1 0h1m8 0h1m4 0h1m3 0h1m57 0h1m-79 1h1m2 0h1m24 0h1m41 0h1m12 0h1m11 0h1m3 0h1m-111 1h1m15 0h1m61 0h2m11 0h1m-89 1h1m8 0h1m28 0h1m45 0h1m-88 1h1m1 0h1m34 0h1m52 0h1m16 0h1m-88 1h1m8 0h1m1 0h1m6 0h1m53 0h1m9 0h1m-99 1h1m3 0h2m17 0h1m54 0h2m3 0h1m3 0h1m-57 1h1m53 0h1m-80 1h2m15 0h1m6 0h1m43 0h1m7 0h2m2 0h1m2 0h1m-53 1h1m62 0h1m-91 1h1m10 0h1m75 0h1m-91 1h1m10 0h1m2 0h1m58 0h1m-83 1h1m17 0h1m4 0h1m58 0h1m2 0h1m10 0h1m10 0h2m-106 1h1m2 0h1m18 0h1m7 0h1m60 0h1m13 0h1m-69 1h1m49 0h2m11 0h1m-81 1h1m13 0h1m60 0h1m9 0h1m-3 1h1m4 0h1m-72 1h1m42 1h1m3 0h1m22 0h1m-96 1h1m6 0h1m3 0h1m53 0h1m17 0h1m2 0h1m-13 1h1m7 0h1m-100 1h1m3 0h1m1 0h1m8 0h1m11 0h1m3 0h1m2 1h1m55 0h1m14 0h1m-82 1h1m85 0h1m-107 1h1m7 0h1m21 0h1m1 0h1m44 0h1m30 0h1m-82 1h1m45 0h1m12 0h1m-53 1h1m50 0h1m17 0h1m-98 1h1m9 0h1m15 0h1m51 0h1m3 0h1m5 0h1m9 0h1m-90 1h1m18 0h1m-37 1h1m31 0h1m2 0h1m43 0h1m30 0h1m-113 1h1m13 0h1m14 0h1m68 0h1m12 0h1m-89 1h2m4 0h1m58 0h1m4 0h1m5 0h2m10 0h1m-101 1h1m4 0h1m12 0h1m48 0h1m15 0h1m9 0h1m3 0h1m2 0h1m-108 1h1m8 0h1m6 0h1m12 0h1m1 0h2m43 0h1m28 0h1m2 0h1m-103 1h1m3 0h1m1 0h1m1 0h1m16 0h1m4 0h1m64 0h1m1 0h1m-8 1h1m9 0h1m-102 1h1m1 0h1m13 0h1m8 0h1m4 0h1m52 0h1m11 0h1m-90 1h1m21 0h1m48 0h1m9 0h1m3 0h1m4 0h1m-74 1h1m7 0h1m44 0h1m-5 1h1m3 0h1m4 0h2m13 0h1m-104 1h1m21 0h1m56 0h1m2 0h2m-63 1h1m2 0h1m73 0h1m5 0h1m-91 1h1m5 0h1m65 0h1m9 0h1m8 0h1m-95 1h1m7 0h1m7 0h2m10 0h1m39 0h1m-78 1h1m11 0h1m1 0h1m21 0h1m38 0h1m2 0h1m4 0h1m-74 1h1m4 0h1m1 0h2m9 0h1m50 0h1m7 1h1m15 0h1m-106 1h1m18 0h1m75 0h4m-87 1h1m1 0h1m6 0h1m7 0h1m4 0h1m2 0h1m1 0h1m42 0h1m2 0h1m-81 1h1m16 0h1m55 0h1m2 0h1m26 0h2m-90 1h1m16 0h1m2 0h1m37 0h1m10 0h1m2 0h1m8 0h1m6 0h1m-102 1h1m2 0h1m4 0h1m6 0h1m1 0h1m51 0h1m1 0h1m2 0h1m2 0h1m1 0h1m11 0h1m-98 1h1m15 0h1m1 0h1m1 0h1m10 0h1m54 0h1m13 0h1m4 0h1m-86 1h1m58 0h1m28 0h2m-110 1h1m4 0h1m25 0h1m51 0h1m3 0h1m10 0h1m8 0h1m-101 1h1m7 0h1m17 0h1m65 0h1m7 0h1m-106 1h1m10 0h1m9 0h1m9 0h1m54 0h1m6 0h1m5 0h1m3 0h1m-102 1h1m1 0h1m7 0h1m11 0h1m3 0h1m48 0h1m23 0h1m-107 1h1m20 0h1m5 0h1m4 0h2m-16 1h1m9 0h1m12 0h1m47 0h1m11 0h2m-101 1h1m6 0h1m20 0h1m1 0h1m79 0h1m-110 1h1m8 0h2m89 0h1m-103 1h1m24 0h2m8 0h1m60 0h1m1 0h1m1 0h1m3 0h1m-106 1h1m18 0h1m61 0h1m31 0h1m-111 1h1m90 0h1m15 0h1m-106 1h1m15 0h1m18 0h1m43 0h1m8 0h1m12 0h2m5 0h1m-107 1h2m2 0h1m4 0h1m1 0h1m8 0h1m7 0h1m52 0h1m24 0h1m-103 1h1m5 0h1m18 0h1m51 0h1m12 0h2m-98 1h1m4 0h1m4 0h1m12 0h1m2 0h1m54 0h1m6 0h1m2 0h1m-93 1h1m3 0h1m13 0h1m4 0h1m78 0h1m1 0h1m-108 1h1m2 0h1m35 0h1m36 0h1m9 0h1m23 0h1m-105 1h1m80 0h1m20 0h1m-78 1h1m44 0h1m5 0h1m4 0h1m18 0h1m-92 1h1m1 0h1m7 0h1m6 1h1m46 1h1m22 0h1m-95 1h1m2 0h1m18 0h1m48 0h1m9 0h1m-64 1h1m6 0h1m59 0h1m9 0h1m3 0h1m1 0h1m-86 1h1m7 0h1m72 0h1m-101 1h1m78 0h1m5 0h1m19 0h1m-100 1h1m2 0h1m77 0h1m5 0h1m7 0h1m1 0h1m-108 1h1m6 0h1m1 0h1m3 0h1m7 0h1m10 0h1m1 0h1m51 0h1m2 0h1m6 0h1m5 0h1m2 0h1m2 0h1m-104 1h1m10 0h1m19 0h1m44 0h1m9 0h2m7 0h1m10 0h1m-106 1h1m5 0h1m1 0h1m6 0h1m65 0h1m1 0h1m2 0h1m8 0h1m-77 1h1m10 0h1m-37 1h1m2 0h1m2 0h1m82 0h1m14 0h1m-100 1h1m14 0h1m10 0h1m44 0h1m-65 1h1m74 0h1m9 0h1m-81 1h2m5 0h1m5 0h1m1 0h1m-12 1h1m11 0h1m4 0h1m36 0h1m10 0h2m5 0h1m4 0h1m2 0h1m9 0h1m-79 1h1m62 1h1m3 0h1m3 0h1m-99 1h1m4 0h1m19 0h1m57 0h1m-80 1h1m16 0h1m50 0h1m10 0h1m17 0h1m-77 1h1m47 0h1m27 0h1m-91 1h1m66 0h1m8 0h1m-96 1h1m6 0h2m18 0h1m14 0h1m37 0h1m11 0h1m9 0h1m4 0h1m3 0h1m-74 1h2m54 0h1m9 0h1m1 0h1m-93 1h1m75 0h1m6 0h1m2 0h1m1 0h1m-98 1h1m1 0h1m31 0h1m65 0h1m-90 1h1m18 0h2m75 0h1m-107 1h1m2 0h1m3 0h1m3 0h1m18 0h1m67 0h1m-96 1h1m79 0h1m-73 1h1m18 0h1m5 0h1m46 0h1m14 0h2m2 0h1m-108 1h1m15 0h1m68 0h1m5 0h1m1 0h1m5 0h1m-85 1h1m10 0h1m3 0h1m45 0h1m9 0h1m3 0h1m12 0h1m-97 1h1m1 0h1m20 0h1m58 0h1m6 0h1m9 0h1m3 0h1m-109 1h1m79 0h1m8 0h1m-91 1h1m20 0h1m3 0h1m51 0h1m2 0h1m26 0h1m-102 1h1m18 0h1m51 0h1m17 0h1m4 0h1m5 0h1m-69 1h1m52 0h2m-95 1h1m13 0h1m80 0h1m-64 1h1m1 0h1m47 0h1m-77 1h1m2 0h1m1 0h1m80 0h1m19 0h2m-102 1h1m70 0h1m11 0h1m17 0h1m-106 1h1m9 0h1m4 0h1m16 0h1m-35 1h1m20 0h1m14 0h1m68 0h1m-107 1h1m73 0h1m13 0h1m10 0h1m-96 1h1m13 0h1m9 0h1m47 0h1m4 0h1m-81 1h2m11 0h1m71 0h1m-86 1h1m22 0h1m3 0h1m-13 1h1m7 0h1m3 0h1m70 0h1m2 0h2m3 0h1m-103 1h1m2 0h1m9 0h1m7 0h1m47 0h1m3 0h1m5 0h1m16 0h1m-93 1h1m68 0h1m16 0h1m6 0h1m-105 1h1m9 0h1m17 0h1m59 0h1m10 0h1m-103 1h1m41 0h1m-32 1h1m70 0h1m-72 1h1m72 0h1m-51 1h1m4 0h1m56 0h1m3 0h1m3 0h1m-80 1h1m6 0h1m1 0h1m4 0h1m57 0h1m14 0h1m-106 1h1m14 0h1m76 0h2m1 0h1m-101 1h1m11 0h1m25 0h1m43 0h1m12 0h1m-72 1h1m3 0h1m8 0h1m37 0h1m1 0h1m11 0h1m-64 1h1m64 0h1m-6 1h1m1 0h1m1 0h1m5 0h2m-93 1h1m23 0h1m3 0h1m62 0h1m12 0h1m-112 1h1m22 0h1m5 0h1m2 0h1m5 0h1m40 0h1m5 0h1m16 0h1m6 0h1m-93 1h1m20 0h1m55 0h1m4 0h2m9 0h1m2 0h1m-90 1h1m2 0h1m10 0h1m58 0h1m13 0h1m-101 1h1m11 0h1m5 0h1m2 0h1m53 0h1m-54 1h1m6 0h1m44 0h1m-85 1h1m22 0h1m3 0h1m64 0h1m10 0h1m6 0h1m-25 1h1m2 0h1m-89 1h1m8 0h1m13 0h1m5 0h1m50 0h1m4 0h1m9 0h1m6 0h1m-94 1h1m9 0h1m6 0h1m8 0h1m39 0h1m18 0h1m3 0h1m4 0h2m1 0h1m-103 1h1m1 0h1m7 0h1m22 0h1m38 0h1m-76 1h1m13 0h1m19 0h1m60 0h1m8 0h1m1 0h1m-87 1h1m8 0h1m62 0h1m3 0h1m11 0h1m-88 1h1m54 0h1m6 0h1m12 0h1m-81 1h1m4 0h1m1 0h1m1 0h1m58 0h1m13 0h1m10 0h1m-108 1h1m22 0h1m13 0h1m36 0h1m24 0h1m4 0h1m-31 1h1m2 0h1m11 0h1m3 0h1m8 0h1m-100 1h1m23 0h1m46 0h2m29 0h2m-107 1h1m77 0h1m20 0h1m-65 1h1m47 0h1m1 0h1m14 0h1m6 0h1m-99 1h1m13 0h1m-27 1h1m2 0h1m71 0h1m20 0h1m5 0h1m-80 1h1m54 0h1m10 0h1m2 0h1m18 0h1m-27 1h1m15 0h1m-103 1h1m40 0h1m45 0h1m4 0h2m-67 1h1m1 0h1m9 0h1m38 0h1m-59 1h1m-11 1h1m3 0h1m18 0h1m4 0h1m68 0h1m-108 1h1m13 0h1m74 0h1m-69 1h1m2 0h1m14 0h1m67 0h1m3 0h1m-112 1h1m6 0h1m8 0h1m7 0h1m7 0h1m72 0h1m5 0h1m-103 1h1m31 0h1m37 0h1m7 0h1m17 0h1m-106 1h1m37 0h1m-8 1h1m2 0h1m42 0h1m4 0h1m27 0h1m-91 1h1m18 0h1m53 0h1m10 0h2m-20 1h1m1 0h1m10 0h1m1 0h1m5 0h1m-107 1h1m5 0h1m13 0h1m56 0h1m8 0h1m2 0h1m-90 1h1m15 0h1m11 0h1m5 0h1m46 0h1m11 0h1m-95 1h2m3 0h1m12 0h1m7 0h1m11 0h1m51 0h1m12 0h1m3 0h1m-102 1h1m105 0h1m-107 1h1m9 0h1m7 0h1m-24 1h1m6 0h1m3 0h1m10 0h1m11 0h1m42 0h1m2 0h1m-75 1h1m5 0h1m62 0h1m25 0h1m-101 1h1m29 0h1m7 0h1m51 0h1m-87 1h1m85 0h1m-76 1h1m3 0h1m1 0h1m5 0h1m10 0h1m51 0h1m3 0h1m6 0h1m-102 1h1m8 0h1m5 0h1m15 0h2m6 0h1m37 0h1m-73 1h1m79 0h1m2 0h1m6 0h1m13 0h1m-101 1h1m14 0h1m7 0h1m60 0h2m-74 1h2m11 0h1m43 0h1m31 0h1m-96 1h1m59 0h1m3 0h1m1 0h1m4 0h1m-54 1h1m42 0h1m2 0h1m4 0h1m9 0h1m-69 1h1m53 0h1m14 0h1m5 0h1m-102 1h1m12 0h1m9 0h1m66 0h1m5 0h1m-92 1h1m8 0h1m4 0h1m16 0h1m59 0h1m2 0h1m0 1h1m3 0h1m4 0h1m-99 1h1m3 0h1m2 0h1m5 0h1m6 0h1m45 0h1m10 0h1m1 0h1m8 0h1m-87 1h1m5 0h1m62 0h1m5 0h1m10 0h1m-66 1h1m1 0h1m1 0h1m-33 1h1m19 0h2m2 0h1m2 0h1m48 0h1m26 0h1m-108 1h1m75 0h1m1 0h1m5 0h1m16 0h1m-69 1h1m2 0h1m70 0h1m-108 1h1m101 0h1m-107 1h1m9 0h1m11 0h1m62 0h1m1 0h1m2 0h1m6 0h1m11 0h1m-83 1h1m13 0h1m-20 1h1m15 0h1m54 0h1m2 0h1m-87 1h1m8 0h1m5 0h1m3 0h1m63 0h1m16 0h1m-91 1h1m4 0h1m50 0h1m3 0h1m-72 1h1m88 0h1m-95 1h1m19 0h1m14 0h1m68 0h1m-108 1h1m4 0h1m18 0h1m54 0h1m9 0h1m17 0h1m2 0h1m-113 1h1m10 0h1m8 0h1m57 0h1m1 0h1m1 0h1m6 0h1m1 0h1m10 0h1m5 0h1m-76 1h1m6 0h1m69 0h1m-99 1h1m10 0h1m3 0h1m71 0h1m5 0h1m6 0h1m-98 1h1m2 0h1m12 0h2m3 0h1m64 0h1m5 0h1m-96 1h1m72 0h1m4 0h1m2 0h1m2 0h1m-88 1h1m27 0h1m65 0h1m-70 1h1m56 0h1m-88 1h1m80 0h1m-48 1h1m43 0h1m10 0h1m-65 1h1m53 0h1m-80 1h1m2 0h2m10 0h1m4 0h1m55 0h1m8 0h1m22 0h1m-94 1h1m2 0h1m4 0h1m1 0h1m7 0h1m71 0h1m-105 1h1m6 0h1m9 0h1m6 0h1m4 0h1m44 0h1m7 0h2m22 0h1m-84 1h1m53 0h1m3 0h1m-80 1h1m23 0h1m72 0h1m-104 1h1m40 0h1m62 0h1m-94 1h1m6 0h1m57 0h1m7 0h1m5 0h1m9 0h1m-90 1h1m11 0h1m58 0h1m-80 1h1m1 1h1m80 0h1m17 0h1m-104 1h1m21 0h1m64 0h1m6 0h1m14 0h1m-100 1h1m12 0h1m11 0h1m53 0h1m2 0h1m10 0h1m-95 1h1m12 0h1m12 0h1m53 0h1m2 0h1m-89 1h1m5 0h1m8 0h1m6 0h1m4 0h1m5 0h1m51 0h1m-88 1h1m22 0h1m10 0h1m47 0h1m22 0h1m-98 1h1m3 0h1m2 0h1m70 0h1m11 0h1m-88 1h1m7 0h1m7 0h1m51 0h1m8 0h1m-93 1h1m4 0h1m4 0h1m7 0h1m12 0h1m7 0h1m1 0h1m44 0h1m9 0h1m8 0h1m3 0h1m-98 1h1m7 0h1m60 0h1m4 0h1m26 0h1m-98 1h1m2 0h1m2 0h1m62 0h1m27 0h1m-114 1h1m28 0h1m60 0h1m-1 1h1m17 0h1m-106 1h1m12 0h1m5 0h1m9 0h1m64 0h2m-81 1h1m19 0h1m50 0h1m-74 1h1m6 0h1m60 0h1m27 0h1m-82 1h1m2 0h1m2 0h1m42 0h1m3 0h1m3 0h1m-76 1h1m6 0h1m3 0h1m16 0h1m60 0h1m-24 1h2m-64 1h2m3 0h1m12 0h1m1 0h1m62 0h1m2 0h2m-77 1h1m59 0h1m-80 1h1m14 0h1m65 0h1m20 0h1m-107 1h1m2 0h1m9 0h1m84 0h1m-65 1h1m-30 1h1m21 0h1m6 0h1m61 0h1m-80 1h1m60 0h1m24 0h1m-102 1h1m77 0h1m7 0h1m16 0h1m2 0h1m-98 1h1m1 0h1m22 0h1m53 0h1m2 0h1m9 0h1m4 0h1m-114 1h1m7 0h1m8 0h1m59 0h1m12 0h1m-86 1h1m21 0h1m55 0h1m2 0h1m1 0h1m-71 1h1m65 0h1m10 0h1m-73 1h1m4 0h1m78 0h1m1 0h1m-110 1h2m2 0h1m13 0h1m13 0h1m-32 1h1m4 0h2m10 0h2m8 0h1m55 0h1m1 0h1m24 0h1m-97 1h1m21 0h1m4 0h1m58 0h1m8 0h1m-84 1h1m58 0h2m2 0h1m14 0h1m-24 1h1m15 0h1m-97 1h1m3 0h1m14 0h1m5 0h1m58 0h1m7 0h1m8 0h1m-103 1h1m8 0h1m15 0h1m63 0h1m17 0h1m-99 1h1m2 0h1m9 0h1m6 0h1m49 0h1m19 0h1m-99 1h1m30 0h1m-31 1h1m1 0h1m14 0h1m-15 1h1m23 0h1m71 0h1m-103 1h1m14 0h1m70 0h1m23 0h1m-92 1h1m7 0h1m4 0h1m44 0h2m15 0h1m-81 1h1m25 0h1m36 0h2m-77 1h1m6 0h1m29 0h2m50 0h1m-85 1h1m9 0h1m17 0h1m76 0h1m-106 1h1m17 0h2m-15 1h2m1 0h1m12 0h1m10 0h1m43 0h1m28 0h1m-97 1h1m15 0h1m61 0h1m17 0h1m-109 1h1m29 0h1m57 0h1m15 0h1m-104 1h1m36 0h1m-33 1h1m8 0h2m7 0h1m7 0h1m-26 1h1m-7 1h1m31 0h1m67 0h1m-93 1h1m17 0h1m5 0h1m45 0h1m-81 1h1m5 0h1m94 0h1m-105 1h1m11 0h1m-8 1h2m8 0h1m2 0h1m23 0h1m-40 1h1m5 0h1m6 0h1m14 0h2m7 0h1m52 0h1m-84 1h1m2 0h1m21 0h2m4 0h1m-35 1h1m12 0h1m62 0h1m-67 2h1m6 0h1m1 0h1m3 0h1m5 0h1m-36 1h1m9 0h1m9 0h1m-18 1h1m2 0h1m-8 1h1m21 0h1m5 0h1m-25 1h1m23 0h1m9 0h1"/><path stroke="#eb00ff" d="M197 32h1m38 0h1m56 0h1m-97 1h1m2 1h1m27 0h1m8 0h1m-29 1h1m24 0h1m-9 1h1m53 0h1m-78 1h1m9 0h1m11 1h1m3 0h1m1 0h1m-24 1h1m22 0h1m53 0h1m-1 1h1m-89 1h1m5 0h1m13 0h1m1 0h1m-2 1h1m17 0h1m66 0h1m-104 1h1m22 0h1m6 0h1m44 0h1m-42 1h1m-27 1h1m73 1h1m-84 2h1m24 0h1m5 1h1m-33 2h1m109 0h1m-103 2h1m13 0h1m68 0h1m-78 1h1m-9 1h2m11 0h1m6 0h1m55 0h1m-78 1h1m5 0h1m23 0h1m39 0h1m34 0h1m-86 1h1m6 0h1m4 0h1m57 0h1m-2 1h1m-72 2h1m14 0h1m44 0h1m-62 1h1m-5 1h1m66 1h1m-79 1h1m31 0h1m-38 2h1m2 0h1m3 0h1m-13 1h1m19 0h1m68 0h1m-68 1h2m13 0h1m-35 1h1m24 0h1m5 0h1m58 0h1m-90 1h2m3 0h1m6 0h1m60 0h1m4 0h1m-41 1h1m62 0h1m-102 2h1m5 0h1m82 0h1m16 1h1m-95 2h1m-16 1h1m85 0h1m-50 1h1m2 0h1m-34 1h1m9 0h1m6 0h1m72 0h1m-71 1h1m-20 1h1m76 0h1m-77 1h1m22 0h1m57 0h1m18 0h1m-99 1h1m6 0h2m3 1h1m-7 1h1m61 1h1m28 0h1m-97 1h1m9 0h1m18 1h1m-33 1h1m-9 1h1m16 1h1m76 0h1m-80 1h1m4 0h1m-10 1h1m19 0h1m-21 2h1m95 2h1m-95 1h1m4 0h1m73 0h1m-92 1h1m1 0h1m71 0h1m11 0h1m-62 1h2m9 0h1m-39 1h1m19 0h1m-17 2h1m24 0h1m65 1h1m-1 2h2m2 0h1m-96 1h1m11 0h1m2 0h1m-12 1h1m15 0h1m79 0h1m5 1h1m-111 1h1m111 0h1m-104 1h1m15 0h1m8 0h1m6 0h1m-34 2h1m20 0h1m63 0h1m-76 1h1m61 0h1m14 0h1m-89 1h1m11 0h1m10 0h1m-28 1h1m0 1h1m-5 1h1m35 0h1m54 0h1m8 0h1m-88 1h1m70 0h1m3 0h1m9 0h1m-21 1h1m-70 1h1m10 0h1m14 1h1m47 0h1m-57 1h1m-26 1h1m27 0h1m10 0h1m60 2h1m-96 1h1m22 0h1m10 0h1m35 0h1m-74 1h1m23 0h1m-30 1h1m0 1h1m17 0h2m3 0h1m-13 1h1m24 0h1m3 0h1m68 0h1m-92 2h1m19 0h1m-34 1h1m95 0h1m-101 1h1m2 1h1m21 0h1m-24 1h1m32 0h1m45 0h1m-73 1h1m94 0h1m-100 1h1m1 1h1m7 0h1m21 0h1m68 0h1m-13 1h1m-96 1h1m21 0h1m2 0h1m6 0h1m8 2h1m-11 1h1m6 0h1m44 0h1m-73 1h1m20 0h1m-22 1h1m12 0h1m2 0h1m-28 1h1m13 0h1m93 0h1m-76 3h1m-10 1h1m8 2h1m-19 1h1m70 0h1m25 0h1m-97 1h1m59 0h1m35 0h1m-96 1h1m22 0h1m-24 1h1m6 0h1m5 1h2m-9 1h1m-18 1h1m5 0h2m5 1h1m-11 1h1m18 0h1m48 0h1m-72 1h1m29 0h1m-1 1h1m-20 1h1m12 2h1m77 0h1m-104 1h1m2 0h1m1 0h1m2 0h1m5 0h1m89 2h1m-81 1h1m-24 1h1m86 0h1m-93 1h1m31 0h1m-33 1h1m19 0h1m89 0h1m-99 1h1m26 0h1m42 0h1m-65 1h1m8 0h2m-26 1h1m35 0h1m52 0h1m-89 2h1m34 0h1m-42 1h1m16 0h1m19 0h1m56 0h1m-67 1h1m80 0h1m-100 2h1m24 1h1m2 1h1m41 0h1m17 1h1m-77 1h1m-10 1h1m8 0h1m8 0h1m59 0h1m-79 1h1m85 0h1m7 0h1m-28 2h1m-44 1h1m70 0h1m-18 1h1m-92 1h1m38 0h1m55 1h1m-93 1h1m38 0h1m-13 1h2m48 0h1m-79 3h1m3 0h1m33 0h1m47 0h1m-87 1h1m19 0h1m1 0h1m-19 1h1m17 0h1m6 0h1m5 1h1m4 1h1m-42 1h1m8 0h1m16 0h1m8 0h1m-7 1h1m47 1h1m-69 1h1m70 0h1m-79 1h1m20 0h1m84 0h1m-76 1h1m3 1h1m46 0h1m-61 1h1m55 0h1m-46 1h1m47 0h1m-82 1h1m1 1h1m30 0h1m-28 1h1m24 0h1m68 0h1m-103 1h1m28 0h1m-10 2h1m81 0h1m-72 1h1m-29 1h1m10 0h1m68 1h1m-44 1h1m-22 1h1m12 0h1m52 0h1m15 0h1m3 0h1m-21 1h1m-55 1h1m4 0h1m-9 1h1m8 0h2m61 0h2m7 0h1m-71 1h1m58 0h1m12 0h1m-104 1h1m9 1h1m86 0h1m-8 1h1m-82 1h2m2 2h1m-22 1h1m39 0h1m-6 1h1m-26 1h1m92 0h1m-103 1h1m1 0h1m19 0h1m-25 1h1m18 0h1m15 0h1m63 0h1m-97 1h1m1 0h1m73 0h1m12 0h1m-54 1h1m-21 1h1m-14 1h1m70 0h1m18 1h1m-57 1h1m51 0h1m-90 1h1m21 0h1m57 0h1m-67 1h1m3 0h1m-10 1h1m16 0h1m2 0h1m-24 1h1m7 0h1m93 0h1m-110 1h1m23 0h1m7 1h2m70 0h1m-90 1h2m15 0h1m49 1h1m18 0h1m2 0h1m3 0h1m-74 1h1m64 0h1m-84 1h1m13 0h1m-33 1h1m2 0h1m80 1h1m-74 2h1m82 0h1m-9 2h1m24 0h2m-99 1h1m78 1h1m-77 1h1m-13 1h1m3 0h1m10 0h1m-8 1h1m77 0h1m10 0h1m-89 1h1m1 0h1m64 0h1m13 0h1m16 0h1m-90 1h1m-13 1h2m13 0h1m-9 1h2m1 0h1m19 0h1m37 0h1m-81 1h1m8 0h1m5 0h1m64 1h1m-81 1h1m7 0h1m10 0h1m19 0h1m67 0h1m-66 1h1m-39 1h1m12 0h1m3 0h1m58 0h1m25 0h1m-85 1h1m-6 1h3m19 0h1m2 1h1m41 0h1m-82 1h1m14 1h1m15 0h1m-15 2h1m-14 1h1m19 1h1m-2 1h1m53 0h1m22 0h1m-77 1h3m71 0h1m-80 1h1m-7 1h1m4 0h1m6 0h1m13 0h1m69 0h1m-112 1h1m18 0h1m1 1h1m-23 3h1m5 0h1m11 0h1m9 0h1m11 0h1m36 0h1m6 0h1m-83 1h1m28 0h1m48 0h1m20 0h1m-61 1h1m64 0h1m-102 1h1m31 1h1m40 0h1m1 0h1m-53 2h1m2 0h1m52 0h1m28 1h1m-110 1h1m12 0h1m8 0h1m6 0h1m47 0h1m12 0h1m-72 1h2m55 0h1m25 0h1m-99 1h1m17 0h1m7 0h1m2 0h1m-18 1h1m11 0h1m-14 1h1m86 0h1m-96 1h1m1 0h1m15 0h1m7 0h1m50 0h1m-1 3h1m-80 1h1m3 1h1m69 0h1m-61 1h1m5 1h1m75 0h1m3 0h1m-31 1h1m10 0h1m-86 1h2m32 0h1m1 0h1m-33 1h2m4 0h1m22 0h1m-6 1h1m44 0h1m-74 1h1m2 0h1m19 2h1m74 0h1m-101 1h1m6 2h1m28 0h1m45 0h1m-66 1h1m-11 1h1m85 0h1m-92 1h1m10 0h1m-8 1h1m2 0h1m23 0h1m61 0h1m-60 1h1m-7 1h1m-13 2h1m2 0h1m1 0h1m-6 2h1m7 1h1m69 0h1m4 0h1m-105 1h1m82 0h1m4 0h1m17 0h1m-90 1h1m22 0h1m54 1h1m-64 1h1m-8 1h1m57 0h1m-84 1h1m2 0h1m94 0h1m4 0h1m-75 1h1m11 0h1m-22 1h1m2 0h1m2 0h1m-10 1h2m13 0h1m72 0h1m-92 2h1m6 1h1m61 0h1m19 0h1m3 0h1m-73 2h1m46 0h1m-75 1h1m-4 1h1m91 1h1m-11 1h1m11 1h1m-94 2h1m23 0h1m79 0h1m-104 1h1m7 0h1m9 0h1m15 0h1m-39 1h1m3 0h1m11 0h1m20 0h1m63 0h1m-67 1h1m68 0h1m-86 1h1m-17 2h1m16 0h1m69 0h1m16 0h1m-109 1h2m31 0h1m1 1h1m-30 1h1m69 0h1m18 0h1m-97 1h1m9 0h1m3 0h1m3 0h2m67 0h1m-68 1h1m83 1h1m-67 1h1m1 0h1m41 0h1m-84 1h1m12 0h1m24 0h1m57 0h1m-94 1h1m1 0h1m101 0h1m-94 1h1m-10 2h1m19 0h1m86 0h1m-107 1h1m18 0h1m8 0h1m75 0h1m-107 2h1m25 0h1m2 0h1m53 0h1m-88 1h1m4 0h1m5 2h1m9 0h1m20 0h1m-32 1h1m-3 1h1m20 0h1m79 0h1m-70 1h1m-7 1h1m-14 1h1m80 0h1m-63 1h1m-41 1h1m98 0h1m-68 1h1m2 1h1m3 0h1m-1 1h1m-34 1h1m11 0h1m-8 1h1m9 0h1m79 0h1m-99 1h1m22 0h1m4 0h1m9 0h1m-40 1h1m25 0h1m5 0h1m-23 1h1m17 0h1m-20 1h1m23 0h1m-23 2h1m18 0h1m-26 1h1m14 0h1m15 0h1m2 2h1m-14 1h1m-17 1h1m98 0h1m-111 1h1m20 0h1m9 2h1m2 1h1m-24 1h1m94 0h1m-94 1h1m16 0h1m-12 1h1m7 0h1m0 3h1m7 0h1m-30 1h1m25 1h1m-11 2h1"/><path stroke="#ec00ec" d="M219 32h1m53 0h1m18 0h1m-98 1h1m19 0h1m21 0h1m49 0h1m4 0h1m-76 2h1m1 0h1m55 0h1m20 0h1m-91 1h2m13 0h1m2 0h1m81 0h1m-109 1h1m34 0h1m55 0h1m13 0h1m-8 1h2m-92 1h1m19 0h1m49 0h1m11 0h1m15 0h1m-104 1h1m18 0h1m74 0h1m-98 1h1m22 0h1m59 0h1m-86 1h1m13 0h1m23 0h1m40 0h1m16 0h1m-75 1h1m-9 1h1m66 0h1m8 0h1m15 0h1m-98 2h1m20 0h1m10 0h1m53 0h2m9 0h1m-106 1h1m2 0h1m8 0h1m19 0h1m45 0h1m7 0h1m23 0h1m-29 1h1m18 0h1m4 0h1m-79 1h1m6 0h1m1 0h1m70 0h1m-103 1h1m86 0h1m8 0h2m5 0h1m-9 1h2m1 0h1m2 0h1m-100 1h1m12 0h1m1 0h1m79 0h1m-65 1h1m63 0h1m-91 1h1m76 0h1m-93 1h1m24 0h1m2 0h1m70 1h1m9 1h1m-99 1h1m-5 1h1m2 0h1m4 0h1m5 0h1m1 0h1m12 0h1m-5 1h2m-31 1h1m9 0h2m1 0h1m91 0h1m-76 1h1m-2 1h1m5 0h1m50 0h1m2 0h1m-86 1h1m25 0h1m62 0h1m-58 1h1m-27 1h1m3 0h1m4 0h1m4 0h1m54 0h2m4 0h1m-83 1h1m18 0h1m2 0h1m10 0h1m44 0h1m-80 1h1m91 0h1m-86 2h1m84 0h1m6 0h1m-91 1h1m70 0h1m7 0h1m2 0h1m-71 1h1m12 0h1m58 0h1m-98 1h1m25 0h1m-18 1h1m8 0h1m64 0h1m2 0h1m3 0h1m-91 1h1m1 0h1m2 0h1m13 0h1m16 0h1m3 0h1m41 0h1m-51 1h4m43 0h1m-81 1h1m28 0h1m47 0h1m27 0h1m-83 1h1m58 0h1m18 0h1m10 0h1m-73 1h1m43 0h1m1 0h1m24 0h1m-91 1h1m-7 1h1m72 0h1m18 0h1m3 0h1m-75 1h1m58 0h1m5 0h1m-15 1h1m17 0h1m5 1h2m-109 1h1m90 0h1m3 0h1m-94 1h1m-8 1h1m5 0h1m30 0h1m56 0h1m-95 1h1m4 0h1m5 0h2m5 0h1m8 0h1m63 0h1m14 0h2m-92 1h1m23 0h1m42 0h1m21 0h1m-92 1h1m27 0h1m39 0h1m9 0h1m-80 1h1m71 0h2m-8 1h1m9 0h1m-86 1h1m21 0h1m8 0h1m58 0h1m8 0h1m-75 1h1m7 0h1m2 0h1m67 0h1m-80 1h1m7 0h1m54 0h1m5 0h1m1 0h1m-90 1h1m12 0h1m58 0h1m12 0h1m-18 1h1m-74 1h1m7 0h1m1 0h1m84 0h1m-62 1h1m1 0h1m-32 1h1m2 0h1m8 0h1m89 0h1m-24 1h1m9 0h1m-76 1h1m51 0h1m-52 1h1m82 0h1m3 0h1m-105 1h1m103 0h1m-100 1h1m4 0h1m15 0h1m53 0h1m21 0h1m-90 1h1m3 0h1m-9 1h1m3 0h1m8 0h1m48 0h1m12 0h1m-89 1h1m8 0h1m9 0h1m55 0h1m-47 1h1m3 0h1m38 0h1m5 0h1m6 0h1m-74 1h1m3 0h1m61 0h1m4 0h1m16 0h1m-101 1h1m22 0h1m12 0h1m-35 1h1m24 0h1m63 0h1m-95 1h1m13 0h1m2 0h1m1 0h1m10 0h1m3 0h1m56 0h1m5 0h1m2 0h1m-76 1h1m6 0h1m70 0h1m-65 1h1m39 0h1m-72 1h1m2 0h1m3 0h1m80 0h1m-20 1h1m19 0h1m9 0h1m3 0h1m-109 1h1m4 0h1m7 0h1m17 0h1m70 0h1m-106 1h1m19 0h1m17 0h1m50 0h1m8 0h1m7 0h1m-106 2h1m13 0h1m88 0h1m-2 1h1m1 0h1m-85 1h1m9 0h1m7 0h1m58 0h1m2 0h1m1 0h1m-25 1h1m-81 1h1m21 0h1m12 0h1m-4 1h2m72 0h1m3 0h1m1 0h1m-110 1h1m18 0h1m55 0h1m0 1h1m31 0h1m-93 1h1m12 0h1m48 0h1m27 0h1m-96 1h1m10 0h1m52 0h1m17 0h1m-77 1h1m59 0h1m-63 1h1m5 0h1m4 0h1m75 0h1m-65 1h1m40 0h1m12 0h1m-97 1h1m4 0h1m20 0h1m3 0h1m8 0h1m-33 1h1m28 0h1m3 0h1m47 1h1m15 0h1m-79 1h1m5 0h1m59 0h1m7 0h1m-98 1h1m4 0h1m28 0h3m-29 1h1m24 0h1m1 0h1m-20 1h1m3 0h1m-21 1h1m7 0h1m70 0h1m1 0h1m2 0h1m13 0h1m-100 1h1m91 0h2m-95 1h2m12 0h1m90 0h1m-105 1h1m5 0h1m3 0h1m5 0h1m1 0h1m-13 1h1m10 0h1m7 0h1m66 0h2m1 0h1m11 0h1m1 0h1m-98 1h1m10 0h1m3 0h1m1 0h1m5 0h1m54 0h1m15 0h1m-87 1h1m64 0h1m18 0h1m4 0h1m-106 1h1m3 0h1m5 0h1m8 0h1m14 0h2m51 0h1m10 0h1m-73 1h1m45 0h1m19 0h1m-89 1h1m25 1h1m44 0h1m16 1h1m3 0h1m9 0h1m-107 1h1m11 0h1m5 0h1m65 0h2m1 0h2m9 0h1m-82 1h1m61 0h1m2 0h1m18 0h2m-100 1h1m94 0h1m-64 1h1m61 0h1m-76 1h1m4 0h1m43 0h1m-47 1h1m52 0h1m7 0h1m-75 1h1m18 0h1m61 0h1m-72 1h1m4 0h1m2 0h1m72 0h1m-108 1h1m18 0h1m10 0h1m1 0h1m-22 1h1m8 0h1m79 0h1m4 0h1m-87 1h1m-21 1h1m21 0h1m15 0h1m47 0h1m-85 1h1m79 1h1m-74 1h2m76 0h1m9 0h1m2 0h1m-91 1h1m84 0h1m-96 1h1m109 0h1m-107 1h1m31 0h1m67 0h1m2 0h1m4 0h1m-87 1h1m5 0h1m54 0h1m-61 1h1m7 0h1m-36 1h1m32 0h2m2 0h1m-28 1h1m7 0h1m65 0h1m-85 1h1m26 0h1m2 0h1m73 0h1m2 0h1m-97 1h1m3 0h1m60 0h1m-70 1h1m14 0h1m-14 1h1m18 0h1m-21 1h1m76 0h1m26 0h1m-104 1h1m9 0h1m11 0h1m6 0h2m46 0h1m10 0h1m14 0h1m-111 2h1m34 0h1m42 0h1m13 0h1m7 0h1m-20 1h1m6 0h1m1 0h1m-92 1h1m90 0h1m4 0h1m-94 1h1m31 0h1m66 0h1m3 0h1m-109 1h1m10 0h1m77 0h1m1 0h2m-58 1h1m45 0h1m4 0h1m-76 1h1m26 0h1m45 0h1m2 0h1m10 0h1m-93 1h1m77 0h1m3 0h1m11 0h1m-101 1h1m23 0h1m1 0h1m7 0h1m2 0h1m-20 1h1m10 0h1m12 0h1m-40 2h1m20 0h1m7 0h1m47 0h1m23 0h1m-73 1h1m62 0h1m9 0h1m1 0h1m-93 1h1m8 0h1m9 0h1m56 0h1m1 0h1m-88 1h1m31 0h1m52 0h1m7 0h1m-69 1h1m67 0h1m-96 1h2m10 0h1m2 0h1m3 0h1m5 0h1m7 0h1m3 0h1m45 0h1m1 0h1m14 0h1m-98 1h1m1 0h1m4 0h1m9 0h1m2 0h2m3 0h1m7 0h1m51 0h1m-90 1h1m3 0h1m9 0h1m16 0h1m47 0h1m16 0h1m1 0h2m5 0h1m-78 1h1m50 0h1m16 0h1m10 0h1m-106 1h1m22 0h1m81 0h1m2 0h1m-82 1h1m8 0h1m43 0h1m11 0h1m-90 1h1m4 0h1m27 0h1m58 0h1m-96 1h1m26 0h1m-16 1h1m65 0h1m12 0h1m6 0h2m1 0h1m-101 1h1m3 0h1m13 0h1m8 0h1m3 0h1m48 0h1m-74 1h1m26 0h1m1 0h1m43 0h1m13 0h1m-69 1h1m5 0h1m3 0h1m52 0h1m11 0h1m1 0h1m-110 1h1m41 0h1m61 0h1m-75 1h1m11 0h1m53 0h1m14 0h1m-107 1h1m1 1h1m30 0h1m52 0h1m8 0h1m2 0h1m-93 1h2m11 0h1m62 0h1m9 0h1m-73 1h1m12 0h1m48 0h1m8 0h1m-70 1h1m56 0h1m3 0h1m11 0h1m-94 1h1m75 0h1m28 0h1m-92 1h1m7 0h1m10 0h1m43 0h1m20 0h1m-98 1h1m69 0h1m17 0h1m-95 1h1m34 0h2m2 0h2m56 0h1m11 0h1m-104 1h1m9 0h1m10 0h1m48 0h1m3 0h1m9 0h1m10 0h1m3 0h1m-95 1h1m16 0h1m3 0h1m3 0h1m42 0h1m8 0h1m-75 1h1m81 0h1m14 0h1m-98 1h1m2 0h1m3 0h1m3 0h1m1 0h1m47 0h1m3 0h1m2 0h1m6 0h1m7 0h1m-88 1h1m1 0h1m83 0h1m-1 1h1m-89 1h1m-3 1h1m31 0h1m49 0h1m4 0h1m-92 2h1m3 0h1m-6 1h1m25 0h1m63 0h1m4 0h1m-94 1h1m14 0h1m8 0h1m10 0h1m-36 1h1m87 0h1m9 1h1m-97 1h1m76 0h1m-57 1h1m57 0h1m-70 1h1m6 0h1m81 0h1m5 0h1m-113 1h1m9 0h1m6 0h1m22 0h1m53 0h1m-63 1h1m63 0h1m-9 1h1m14 0h1m8 0h1m-76 1h1m61 0h1m-82 1h1m22 0h1m41 0h1m28 0h1m-106 1h1m18 0h1m3 0h1m2 0h1m50 0h1m1 0h1m-53 1h1m3 0h1m-21 1h1m1 0h1m7 0h1m5 0h1m43 0h1m-51 1h1m-16 1h1m13 0h1m8 0h1m65 0h1m-103 1h1m101 0h1m-98 1h1m25 0h1m7 0h2m41 0h1m22 0h1m-91 1h1m7 0h1m14 0h1m3 0h1m38 0h1m2 0h1m-78 1h1m20 0h1m52 0h1m-74 1h1m93 0h1m-91 1h1m69 0h1m3 0h1m-81 1h1m3 0h1m6 0h1m8 0h1m13 0h1m50 0h1m9 0h1m5 0h1m-27 1h1m3 0h1m12 0h1m8 0h1m5 0h1m-104 1h1m7 0h1m9 0h1m3 0h1m2 0h1m2 0h1m46 0h1m8 0h1m2 0h1m-95 1h1m3 0h1m1 0h1m23 0h1m2 0h2m-38 1h1m40 0h1m58 0h1m-83 1h1m3 0h1m12 0h1m50 0h1m1 0h1m19 0h1m-74 1h1m43 0h1m-76 1h1m20 0h1m11 0h1m51 0h1m3 0h1m-87 1h2m27 0h1m64 0h1m9 0h1m-72 1h1m49 0h1m16 0h1m1 0h1m-70 1h1m1 0h1m36 0h1m-68 1h1m26 1h1m52 0h1m8 0h2m-98 1h1m4 0h1m7 0h1m1 0h1m5 0h1m68 0h1m12 0h1m-88 1h1m16 0h1m54 0h1m16 0h1m-96 1h1m10 0h1m10 0h1m-37 2h1m5 0h1m4 0h1m66 0h1m-56 1h1m80 0h1m-80 1h2m77 0h1m-29 1h1m2 0h1m12 0h1m10 0h1m-90 1h1m6 0h1m10 0h1m1 0h1m2 0h1m39 0h2m14 0h1m12 0h1m5 0h1m-106 1h1m24 0h2m59 0h1m-94 1h1m23 0h1m1 0h1m52 0h1m7 0h1m21 0h1m-108 1h1m6 0h1m3 0h1m-3 1h1m9 0h1m62 0h1m11 0h1m4 0h2m-96 1h1m1 0h1m69 0h1m13 0h1m-70 1h1m53 0h2m8 0h1m18 0h1m-77 1h1m8 0h1m57 0h1m-82 1h1m23 0h1m41 0h1m27 0h1m-105 1h1m70 0h2m12 0h1m11 0h1m-66 1h1m36 0h1m8 0h1m24 0h1m-104 1h1m7 0h1m14 0h1m78 1h1m-93 1h2m1 0h1m1 0h1m9 0h1m4 0h1m48 0h1m4 0h1m16 0h1m-92 1h1m1 0h1m12 0h1m6 0h1m36 0h1m2 0h1m-68 1h1m4 0h2m8 0h1m10 0h1m40 0h1m6 0h1m-64 1h1m9 0h1m42 0h1m1 0h1m7 0h1m-58 1h1m51 0h1m6 0h2m9 0h1m-75 1h1m7 0h1m6 0h1m37 0h1m22 0h1m1 0h1m6 0h1m-85 1h1m13 0h1m38 0h1m22 0h1m-101 1h1m28 0h1m71 0h1m8 0h1m-110 1h1m7 0h1m13 0h1m76 0h1m-93 1h1m6 0h1m10 0h1m64 0h1m14 0h1m-97 1h1m5 0h1m1 0h1m60 0h1m18 0h1m-88 1h1m6 0h1m62 0h1m15 0h1m-93 1h1m8 0h1m62 0h1m10 0h1m9 0h1m-99 1h1m22 0h1m7 0h1m45 0h2m8 0h1m-70 1h1m89 0h1m-92 1h1m7 0h1m58 0h1m-75 1h1m9 0h1m12 0h1m40 0h1m2 0h1m3 0h1m10 0h1m12 0h1m2 0h1m-83 1h2m51 0h1m9 0h1m12 0h1m-106 1h1m3 0h1m6 0h1m28 0h1m44 0h1m-78 1h1m1 0h1m8 0h2m3 0h1m52 0h1m4 0h1m16 0h1m8 0h1m2 0h1m-107 1h1m10 0h1m9 0h1m4 0h1m4 0h1m50 0h1m6 0h1m13 0h1m-104 1h1m18 0h1m16 0h1m60 0h1m7 0h1m-99 1h1m17 0h1m-4 1h1m5 0h1m5 0h1m-38 1h1m23 0h1m1 0h1m62 0h1m8 0h1m3 0h1m6 0h2m-94 1h1m19 0h1m59 0h1m2 0h1m-103 1h1m8 0h1m12 0h1m4 0h1m7 0h2m5 0h1m35 0h1m17 0h2m3 0h1m9 0h1m-102 1h1m16 0h1m-8 1h1m88 0h1m-94 1h1m91 0h1m-102 1h1m1 0h1m24 0h1m52 0h1m10 0h1m4 0h1m-90 1h1m4 0h1m91 0h1m-84 1h1m13 0h1m42 2h1m22 0h1m-90 2h1m13 0h1m66 0h1m-71 1h1m2 0h1m1 0h1m-3 1h2m47 0h1m23 0h1m-95 1h1m10 0h1m16 0h1m-14 1h1m12 0h2m43 0h1m-80 1h1m28 0h2m51 0h1m8 0h1m2 0h1m-78 1h1m18 0h1m47 0h1m7 0h1m-75 1h1m52 0h1m-69 1h1m3 0h1m13 0h1m62 0h1m1 0h1m12 0h1m-15 1h1m-79 1h1m10 0h1m14 0h1m70 0h1m-108 1h1m20 0h1m16 0h1m47 1h1m5 0h1m-64 1h1m76 0h1m-104 1h1m17 0h1m7 0h1m69 0h1m10 0h1m-95 1h1m14 0h1m57 0h1m6 0h1m-85 1h1m14 0h1m66 0h1m-71 1h1m76 0h1m-89 1h1m8 0h1m7 0h1m63 0h1m-87 1h1m93 0h1m5 0h1m-111 1h2m1 0h1m2 0h1m1 0h1m29 0h1m40 0h1m16 0h1m-90 1h1m94 0h2m-104 1h1m28 0h1m7 0h1m41 0h1m-75 1h1m16 0h1m70 0h1m2 0h1m-59 1h1m53 0h1m-79 1h1m3 0h1m14 0h1m64 0h1m8 0h1m-91 1h1m6 0h1m8 0h1m3 0h1m69 0h1m-99 1h1m31 0h1m45 0h1m1 0h1m12 0h1m2 0h1m6 0h1m-111 1h1m11 0h1m19 0h1m45 0h2m16 0h1m1 0h1m-93 1h1m13 0h1m6 0h1m52 0h1m-51 1h1m47 0h1m22 0h1m-104 1h1m39 0h1m63 0h1m-87 1h1m2 0h1m9 0h1m75 0h1m4 0h1m-104 1h1m6 0h1m3 0h1m16 1h1m50 0h1m3 0h1m17 0h1m-112 2h1m27 0h1m63 0h1m5 0h1m-91 1h1m28 0h1m48 0h1m18 0h1m-92 1h2m24 0h1m41 0h2m12 0h1m-84 1h1m19 0h1m3 0h1m42 0h1m-61 1h1m63 1h1m3 0h1m-72 1h1m6 0h1m84 0h1m-94 1h1m24 0h1m69 0h1m-109 1h1m6 0h1m23 0h1m1 0h1m60 0h1m-97 1h1m103 0h1m4 0h1m-82 1h1m52 0h1m1 0h1m7 0h1m8 0h1m3 0h1m7 0h1m-113 2h1m23 1h1m3 0h3m4 0h1m49 0h1m8 0h1m-92 1h1m-1 1h1m18 0h1m67 0h1m4 0h1m-70 1h1m11 0h1m2 0h1m39 0h1m28 0h1m-92 1h1m5 0h1m5 1h1m59 1h1m3 0h1m-71 1h1m2 0h1m11 0h1m60 0h1m-95 1h1m11 0h1m2 0h1m3 0h2m1 0h1m60 0h1m-61 1h1m-26 1h1m80 0h1m10 0h1m2 0h1m-88 1h1m14 1h1m3 0h1m-23 1h1m17 0h1m4 0h1m3 0h1m-21 1h1m16 0h1m-13 1h1m6 0h1m4 0h1m6 0h1m59 0h1m1 0h1m-103 1h1m29 0h1m4 0h1m45 0h1m-80 1h1m3 0h1m7 0h1m15 0h1m4 0h1m49 0h1m-80 1h1m5 0h1m26 0h1m41 0h1m-83 1h1m15 0h1m11 0h1m2 0h2m4 0h1m64 0h1m-99 1h1m12 0h1m10 0h1m11 0h1m-30 1h1m1 0h1m2 0h1m95 0h1m-114 1h1m34 1h1m46 0h1m-60 1h1m17 0h1m-37 1h2m30 0h1m-36 1h1m-3 1h1m2 0h1m2 0h1m3 0h1m6 0h1m6 0h1m13 0h1m2 0h1m61 0h1m-91 1h1m4 0h2m1 0h1m1 0h1m-14 1h1m1 0h1m2 0h1m1 0h2m-10 2h1m76 0h1m-87 1h1m3 0h1m30 0h1m-13 1h1m64 0h1m-78 1h1m7 0h1m-13 1h1m27 0h1m3 0h1m-33 2h1m14 0h1m9 0h1m-15 1h1m1 0h1m-20 1h1m0 1h1m12 0h1m1 1h1m8 0h1m3 0h1m5 0h1m1 0h1m-38 1h1m9 0h1m-5 1h1m27 0h1m1 0h1m-16 1h1m15 1h1"/><path stroke="#ecff00" d="M273 232h1"/><path stroke="#f00402" d="M274 233h1"/><path stroke="#ff00ff" d="M202 32h1m7 0h1m89 0h1m-80 1h1m52 0h1m-67 1h1m5 0h1m1 0h2m11 0h1m-32 1h1m9 0h1m85 0h1m7 0h1m-105 1h1m15 0h1m90 0h1m-11 1h1m-79 1h1m89 0h1m-86 1h1m57 0h1m3 0h1m-55 1h1m60 0h1m11 0h1m-78 1h1m74 0h1m-102 1h1m3 0h1m95 0h1m-88 1h1m5 0h1m15 0h1m47 0h1m18 0h1m-92 1h1m2 0h1m4 0h1m5 0h1m47 0h1m23 0h1m-82 1h1m11 0h1m-30 1h1m9 0h1m6 0h1m8 1h2m10 1h1m34 0h1m15 0h1m10 0h1m-76 1h1m-29 1h1m4 0h1m16 0h1m4 0h2m8 0h1m60 0h1m-75 1h1m64 0h1m-88 1h1m5 0h1m21 0h1m2 0h1m3 0h1m39 0h1m17 0h1m3 0h1m0 1h1m6 0h1m-109 1h1m8 0h1m2 0h1m7 0h1m59 0h1m4 0h1m3 0h1m-89 1h1m5 0h1m32 0h1m-32 1h1m2 0h1m2 0h1m25 0h1m59 1h1m8 0h1m-111 1h1m97 0h1m-4 1h1m2 0h1m-77 1h1m60 0h1m10 0h1m-59 1h1m3 0h1m57 0h1m1 0h1m4 0h1m-3 1h1m-94 1h1m10 0h1m19 0h1m49 0h1m5 0h1m-66 1h1m-32 2h1m88 0h1m-84 1h1m2 1h1m2 0h1m1 0h1m8 0h1m14 0h1m1 0h1m-18 1h1m11 0h1m-34 1h1m105 0h1m-8 2h1m-92 1h1m3 0h1m11 1h1m-15 1h1m74 0h1m10 0h2m-92 1h1m86 0h1m-95 1h1m16 0h1m19 0h1m68 0h1m-105 1h1m16 0h1m67 0h1m1 0h1m-92 1h1m12 0h1m9 0h1m7 0h1m51 0h1m24 0h1m-85 2h1m-1 2h1m4 0h1m65 0h1m-88 1h1m6 0h1m15 0h1m2 0h1m5 0h1m1 0h1m-3 2h1m36 0h1m-47 1h1m64 0h1m-63 2h1m51 0h1m6 0h1m3 0h1m-12 1h1m16 0h1m-68 1h1m47 0h1m6 0h1m-11 1h1m15 0h1m-98 1h1m2 0h1m34 0h1m-29 1h1m66 0h1m21 0h1m-100 1h1m35 0h1m43 0h1m-52 1h1m58 0h1m-89 1h1m24 0h1m65 0h1m-62 1h1m47 0h1m-79 1h1m6 0h1m2 0h1m84 0h1m5 0h1m-89 1h1m27 0h1m-34 1h1m10 0h1m12 0h1m8 1h2m35 0h1m33 0h1m-96 1h1m11 0h1m53 1h1m15 0h1m-10 1h1m6 0h1m-91 1h1m3 0h1m1 0h1m1 0h1m-4 1h1m3 0h1m84 0h1m-84 1h1m88 1h1m-102 1h1m8 0h1m18 0h1m77 0h1m-109 2h1m92 0h1m-90 1h1m70 0h1m1 0h1m2 0h1m26 0h1m-21 1h1m2 0h1m-94 1h1m7 0h1m12 1h1m1 0h1m81 0h1m-68 1h1m51 0h1m1 0h1m-66 1h1m11 0h1m41 0h1m-83 1h1m9 0h1m1 0h1m15 0h1m78 0h1m4 0h2m-102 1h1m23 0h1m45 0h1m-60 1h1m10 1h1m60 0h1m-89 2h1m12 0h1m8 0h1m6 0h1m70 0h1m-88 1h1m63 0h1m-59 1h1m11 0h1m1 0h1m-16 1h1m71 0h1m-89 1h1m2 0h1m70 0h1m24 0h1m-108 1h1m7 0h1m17 0h1m3 0h1m77 0h1m-100 1h1m84 0h1m8 0h1m-95 2h1m23 0h1m57 0h1m16 1h1m-90 1h1m61 0h1m14 0h1m8 0h1m-101 1h1m23 0h1m54 0h1m-56 1h1m5 0h1m48 0h1m9 0h1m-96 1h1m2 0h1m77 0h1m-58 1h1m4 0h1m58 0h1m-66 1h1m67 0h1m-81 1h2m64 0h1m16 0h1m1 0h1m9 0h1m-105 1h1m1 0h1m5 0h1m87 0h1m-82 1h1m1 0h1m18 0h1m-10 1h1m4 0h1m48 0h1m-75 2h1m16 0h1m-26 1h1m15 0h1m9 0h1m52 0h1m0 1h1m3 0h1m7 0h1m-70 1h1m4 0h1m58 0h1m10 0h1m8 0h1m-108 1h1m82 0h1m-53 1h1m2 0h1m6 0h1m-41 1h1m25 0h1m53 0h1m11 0h1m5 0h1m-79 1h1m72 0h1m4 0h1m9 0h1m-96 1h1m13 0h1m59 1h1m14 0h1m7 0h1m-85 1h1m10 0h1m-32 1h1m-8 1h1m17 0h1m67 0h1m10 0h1m13 0h1m-110 1h1m89 0h1m-89 1h1m9 0h1m14 0h1m50 0h1m6 0h1m13 0h1m1 0h1m-86 1h1m65 0h1m1 0h1m-7 1h1m1 0h1m-84 1h2m17 0h1m65 0h1m-56 1h1m7 0h1m48 0h1m-83 1h1m36 0h1m40 0h1m26 0h1m-79 1h1m-28 1h1m16 0h1m13 0h1m3 0h1m71 0h1m-113 1h1m17 0h1m88 0h1m-78 1h1m8 0h1m38 0h1m8 0h1m-86 1h1m12 0h1m9 0h1m57 0h1m2 0h1m7 0h1m-93 1h1m33 0h1m-29 1h1m22 0h1m9 0h1m47 0h1m23 0h1m-104 1h1m13 0h1m56 0h1m30 0h1m-71 1h1m37 0h1m4 0h1m-60 1h1m13 0h1m52 0h1m14 0h1m-93 1h1m81 0h1m2 0h1m-84 1h1m13 0h1m53 0h1m-81 2h1m33 0h1m-21 1h1m7 0h1m60 0h1m-90 1h1m6 0h1m96 0h1m4 0h1m-88 1h1m90 0h1m-95 2h1m-12 1h1m7 0h1m3 0h1m9 0h1m68 0h1m11 0h1m-74 1h1m-36 1h1m3 0h1m-7 1h1m18 0h1m1 0h1m5 0h1m76 0h1m-90 1h1m3 0h1m12 0h1m-19 1h1m85 0h1m-96 1h1m5 0h1m66 0h1m11 0h1m1 0h1m-81 1h1m10 0h1m-10 1h1m76 0h1m-74 1h1m5 0h1m79 0h1m-86 1h1m92 0h1m-108 1h1m19 0h1m54 0h1m-66 2h1m23 0h1m62 0h1m-79 1h1m75 0h1m-85 1h1m-9 1h1m73 0h1m12 0h2m9 0h1m-103 1h1m22 0h1m60 0h1m8 0h1m6 0h1m-99 1h1m94 1h1m4 0h1m-105 1h1m30 0h1m43 0h1m-54 1h1m-19 1h1m11 0h1m8 0h1m51 1h1m14 0h1m-94 1h1m109 0h1m-91 1h1m18 0h1m-27 1h1m4 0h1m-20 1h1m4 0h1m16 0h1m8 0h1m80 0h1m-23 1h1m6 0h1m4 0h1m-104 1h1m23 0h1m87 0h1m-98 1h1m23 2h1m-25 1h1m17 0h1m60 0h1m15 0h1m-95 1h1m9 0h2m64 0h1m-67 1h1m1 0h1m-17 1h1m5 0h1m8 0h1m-3 1h1m4 0h2m8 0h1m52 1h1m7 0h1m-85 1h1m70 0h1m-81 1h1m21 0h1m9 0h1m-19 1h1m4 0h1m13 0h1m-14 1h1m49 0h1m-79 1h1m3 0h2m93 0h1m8 0h1m-104 1h1m10 0h1m4 0h1m2 0h1m61 0h1m-80 1h1m1 0h1m-10 1h1m16 1h1m-6 1h1m24 0h1m42 0h1m-70 1h1m19 0h1m58 0h1m-56 1h1m64 0h1m-98 1h1m28 0h1m77 0h1m1 0h1m-113 1h1m20 0h1m4 0h1m64 0h1m21 0h1m-93 1h2m2 0h1m9 0h1m1 0h1m58 0h1m-95 1h1m95 0h1m2 0h1m-97 1h1m2 0h1m19 0h1m12 0h1m-31 1h1m13 0h1m72 0h1m-85 1h1m17 0h1m6 0h1m56 0h1m-83 1h1m23 0h1m51 0h2m0 1h1m19 0h1m-108 1h1m1 0h1m4 0h1m6 0h2m5 0h1m70 0h1m-76 1h1m-12 1h1m26 0h1m52 0h1m2 0h1m-91 1h1m18 0h1m72 0h1m2 0h1m7 1h1m-78 1h1m3 0h1m75 0h1m-76 1h1m49 1h1m-80 1h1m9 0h1m21 0h1m-19 1h1m92 0h1m-113 1h1m20 0h1m5 0h1m8 0h1m64 0h1m9 0h1m-107 1h1m14 0h1m7 0h1m65 0h1m-3 1h1m7 0h1m-89 1h1m71 0h1m-62 1h1m85 0h1m-90 1h1m82 0h1m-94 1h1m30 0h1m42 0h1m-84 1h1m8 0h1m5 0h1m65 0h1m12 0h1m3 0h1m9 0h1m-107 1h1m9 0h1m1 0h1m17 0h1m51 0h1m-73 1h1m16 0h2m9 0h1m-42 1h1m23 0h1m56 0h1m3 0h1m17 0h1m-91 2h1m-11 2h1m15 0h1m62 0h1m10 1h1m8 0h1m-96 1h1m11 0h1m59 0h1m-81 1h1m12 0h1m12 0h1m84 0h1m-90 1h1m8 0h1m48 0h1m12 0h1m-79 1h1m13 0h1m11 0h1m44 0h1m19 0h2m-81 1h1m-20 1h1m27 0h1m43 0h1m-81 1h1m3 1h1m33 1h1m57 0h1m5 0h1m9 0h1m-102 1h1m87 0h1m13 0h1m-82 1h1m5 0h1m-31 1h1m13 0h1m65 0h1m-88 1h1m2 0h1m13 0h1m12 0h1m2 0h1m45 0h1m-81 1h1m4 0h1m2 0h1m2 0h1m3 1h1m93 0h1m-72 1h1m41 0h1m1 0h1m13 0h1m13 0h1m-96 1h1m82 0h1m-92 1h1m28 0h1m43 0h1m9 0h2m1 0h1m10 0h1m-104 1h1m29 1h1m4 0h1m42 0h1m15 0h1m-7 1h1m7 0h1m-78 1h1m17 0h1m2 0h1m61 0h1m-67 1h1m56 0h1m-90 1h1m10 0h1m11 0h2m63 0h1m-69 1h1m53 0h1m-72 1h1m19 0h1m-18 1h1m5 0h1m16 0h2m44 0h1m-50 1h1m48 0h1m31 0h1m-105 1h1m18 0h1m52 1h1m15 1h1m6 0h1m1 0h1m-19 1h1m12 0h1m-89 1h1m28 0h2m37 0h1m25 0h1m-80 1h1m51 0h1m23 1h1m-71 1h1m46 0h1m25 0h1m-93 1h1m65 0h2m2 0h1m4 0h1m19 0h1m2 0h1m-109 1h1m25 0h1m-12 1h1m60 0h1m11 0h1m9 0h1m-92 2h1m20 0h1m-20 1h1m8 0h1m57 0h1m10 0h1m6 0h1m-74 1h1m-17 1h1m80 0h1m-67 1h1m7 0h1m44 0h1m14 0h1m-90 1h1m77 0h1m9 0h1m-74 1h1m11 0h1m57 0h1m-86 1h1m18 0h1m1 0h1m4 0h1m12 0h1m-37 1h1m13 0h1m-4 1h1m2 0h1m81 0h1m-98 1h1m7 0h1m10 0h1m4 1h1m77 0h1m-95 1h1m5 0h1m13 0h1m-28 1h1m-2 1h1m32 1h1m-7 2h1m47 0h1m-51 1h1m3 0h1m4 0h1m39 0h1m33 0h1m-23 1h1m16 0h2m-99 1h1m-11 1h1m26 0h1m71 0h1m-59 1h1m-36 1h1m9 0h1m71 0h1m-89 1h1m77 0h1m11 0h1m-52 1h1m42 0h1m8 0h1m2 0h1m-14 1h1m-57 1h1m-9 1h1m18 0h1m3 0h1m52 0h1m16 0h1m-33 1h1m28 0h2m-91 1h1m7 0h1m-18 1h1m3 0h1m-15 1h1m102 0h1m-22 1h1m-58 1h1m12 0h1m-30 1h1m21 0h1m6 0h1m-12 1h1m85 0h1m-98 1h1m-16 1h2m3 1h1m14 0h1m6 0h1m80 0h1m-108 1h1m12 0h1m21 0h1m-27 1h1m8 0h1m60 0h1m3 0h1m-79 1h1m86 0h1m-53 1h1m54 0h1m-86 1h1m96 0h1m-70 1h1m38 0h1m17 0h1m6 1h1m-94 1h1m69 0h1m6 0h1m-79 1h1m5 0h1m79 0h1m-74 1h1m3 0h1m-24 1h1m12 0h1m-17 1h1m22 0h1m62 0h1m4 0h1m-74 1h1m83 0h1m-104 1h1m5 0h1m33 0h1m38 0h1m31 0h2m-101 1h1m14 0h1m7 0h1m51 1h1m6 0h1m16 0h1m-106 1h1m5 0h1m9 0h1m3 0h1m14 0h1m48 0h1m4 0h1m-73 1h1m1 0h1m2 0h1m13 0h1m70 0h1m-75 1h1m52 0h1m2 0h1m-75 1h1m12 0h1m3 0h1m59 0h1m7 0h1m-104 1h2m2 0h1m16 0h1m85 0h1m-86 1h1m3 0h1m10 0h2m60 0h1m8 0h1m-112 1h1m9 0h1m84 0h1m-95 1h2m81 0h1m-74 1h1m23 0h1m41 0h1m5 0h1m5 0h1m12 0h1m-90 2h1m21 0h1m52 0h1m23 0h1m-108 1h1m31 0h1m1 0h1m-26 1h1m19 0h1m76 0h1m-107 1h1m76 0h1m-67 1h1m70 0h1m-82 1h1m10 0h1m81 0h1m7 0h1m-103 1h1m19 0h1m53 0h1m8 0h1m19 0h1m-106 1h1m21 0h1m78 0h1m-26 1h1m-57 1h1m6 0h1m3 0h1m52 0h1m14 0h1m-100 1h1m1 0h1m3 0h1m10 0h1m1 0h1m61 0h1m8 0h1m-81 1h1m63 0h1m8 0h1m1 2h1m-82 1h1m33 0h1m-30 1h1m14 0h1m56 0h1m-67 1h1m12 1h1m-23 1h1m26 0h1m-30 1h1m19 1h1m85 0h1m-87 1h1m4 0h1m1 0h1m72 0h1m-106 1h1m29 0h1m55 1h1m1 0h1m16 0h1m-100 1h1m5 0h1m15 0h1m-23 1h1m15 0h1m4 0h1m55 0h1m-86 1h1m25 0h1m4 0h1m5 0h1m2 0h1m-16 1h1m10 0h1m53 0h1m-73 1h1m21 0h1m43 0h1m-43 1h1m43 1h1m-60 2h1m-22 1h1m2 0h1m11 0h1m8 0h1m8 0h1m-30 1h1m30 0h1m-40 2h1m-3 1h1m8 0h1m11 1h1m17 2h1m-36 2h1"/><path stroke="#ff2100" d="M274 245h1"/><path stroke="#ff4900" d="M275 228h1"/><path stroke="#ff8600" d="M275 251h1"/><path stroke="#ffae00" d="M274 253h1"/><path stroke="#ffd600" d="M273 270h1"/></g>
<g fill="#e800f0"><rect x="200" y="439" width="4" height="1" opacity=".6"/><rect x="210" y="439" width="2" height="1" opacity=".8"/><rect x="218" y="439" width="6" height="1" opacity=".5"/><rect x="232" y="439" width="5" height="1" opacity=".8"/><rect x="281" y="439" width="4" height="1" opacity=".7"/><rect x="286" y="439" width="3" height="1" opacity=".5"/><rect x="290" y="439" width="2" height="1" opacity=".8"/><rect x="293" y="439" width="2" height="1" opacity=".8"/><rect x="296" y="439" width="3" height="1" opacity=".6"/><rect x="303" y="439" width="4" height="1" opacity=".4"/></g>
<g fill="#000" shape-rendering="crispEdges">
<rect x="50" y="31" width="1" height="410"/>
<rect x="51" y="31" width="1" height="410" opacity=".72"/>
<rect x="554" y="31" width="1" height="410"/>
<rect x="555" y="31" width="1" height="410" opacity=".3"/>
<rect x="50" y="31" width="505" height="1"/>
<rect x="50" y="440" width="505" height="1"/>
</g>
<g fill="#000" shape-rendering="crispEdges"><rect x="155" y="32" width="1" height="4"/><rect x="155" y="436" width="1" height="4"/><rect x="260" y="32" width="1" height="4"/><rect x="260" y="436" width="1" height="4"/><rect x="365" y="32" width="1" height="4"/><rect x="365" y="436" width="1" height="4"/><rect x="470" y="32" width="1" height="4"/><rect x="470" y="436" width="1" height="4"/><rect x="52" y="403" width="4" height="1" opacity=".62"/><rect x="550" y="403" width="4" height="1" opacity=".62"/><rect x="52" y="366" width="4" height="1" opacity=".62"/><rect x="550" y="366" width="4" height="1" opacity=".62"/><rect x="52" y="328" width="4" height="1" opacity=".62"/><rect x="550" y="328" width="4" height="1" opacity=".62"/><rect x="52" y="291" width="4" height="1" opacity=".62"/><rect x="550" y="291" width="4" height="1" opacity=".62"/><rect x="52" y="254" width="4" height="1" opacity=".62"/><rect x="550" y="254" width="4" height="1" opacity=".62"/><rect x="52" y="217" width="4" height="1" opacity=".62"/><rect x="550" y="217" width="4" height="1" opacity=".62"/><rect x="52" y="180" width="4" height="1" opacity=".62"/><rect x="550" y="180" width="4" height="1" opacity=".62"/><rect x="52" y="143" width="4" height="1" opacity=".62"/><rect x="550" y="143" width="4" height="1" opacity=".62"/><rect x="52" y="105" width="4" height="1" opacity=".62"/><rect x="550" y="105" width="4" height="1" opacity=".62"/><rect x="52" y="68" width="4" height="1" opacity=".62"/><rect x="550" y="68" width="4" height="1" opacity=".62"/></g>
<rect x="573" y="31" width="27" height="410" fill="url(#cb)"/>
<g fill="#000" shape-rendering="crispEdges">
<rect x="573" y="31" width="1" height="410"/>
<rect x="574" y="31" width="1" height="410" opacity=".72"/>
<rect x="599" y="31" width="1" height="410"/>
<rect x="600" y="31" width="1" height="410" opacity=".3"/>
<rect x="573" y="31" width="27" height="1"/>
<rect x="573" y="440" width="27" height="1"/>
<rect x="575" y="399" width="3" height="1" opacity=".7"/>
<rect x="596" y="399" width="3" height="1" opacity=".7"/>
<rect x="575" y="358" width="3" height="1" opacity=".7"/>
<rect x="596" y="358" width="3" height="1" opacity=".7"/>
<rect x="575" y="317" width="3" height="1" opacity=".7"/>
<rect x="596" y="317" width="3" height="1" opacity=".7"/>
<rect x="575" y="276" width="3" height="1" opacity=".7"/>
<rect x="596" y="276" width="3" height="1" opacity=".7"/>
<rect x="575" y="236" width="3" height="1" opacity=".7"/>
<rect x="596" y="236" width="3" height="1" opacity=".7"/>
<rect x="575" y="195" width="3" height="1" opacity=".7"/>
<rect x="596" y="195" width="3" height="1" opacity=".7"/>
<rect x="575" y="154" width="3" height="1" opacity=".7"/>
<rect x="596" y="154" width="3" height="1" opacity=".7"/>
<rect x="575" y="113" width="3" height="1" opacity=".7"/>
<rect x="596" y="113" width="3" height="1" opacity=".7"/>
<rect x="575" y="72" width="3" height="1" opacity=".7"/>
<rect x="596" y="72" width="3" height="1" opacity=".7"/>
</g>
<g font-family="'Liberation Sans', sans-serif" font-size="15.4px" fill="#000" stroke="#000" stroke-width="0.22" text-rendering="geometricPrecision" opacity="0.996"><text transform="translate(302.80 19.90) scale(1.050 1)" text-anchor="middle" font-size="15.9px">20201123 Polarization 355nm</text><text transform="translate(50.20 457.90) scale(1.060 1)" text-anchor="middle">0</text><text transform="translate(155.20 457.90) scale(1.060 1)" text-anchor="middle">5</text><text transform="translate(260.20 457.90) scale(1.060 1)" text-anchor="middle">10</text><text transform="translate(365.20 457.90) scale(1.060 1)" text-anchor="middle">15</text><text transform="translate(470.20 457.90) scale(1.060 1)" text-anchor="middle">20</text><text transform="translate(302.60 474.00) scale(1.078 1)" text-anchor="middle">UTC Time</text><text transform="translate(47.20 445.60) scale(1.060 1)" text-anchor="end">0</text><text transform="translate(47.20 408.42) scale(1.060 1)" text-anchor="end">1</text><text transform="translate(47.20 371.24) scale(1.060 1)" text-anchor="end">2</text><text transform="translate(47.20 334.05) scale(1.060 1)" text-anchor="end">3</text><text transform="translate(47.20 296.87) scale(1.060 1)" text-anchor="end">4</text><text transform="translate(47.20 259.69) scale(1.060 1)" text-anchor="end">5</text><text transform="translate(47.20 222.51) scale(1.060 1)" text-anchor="end">6</text><text transform="translate(47.20 185.33) scale(1.060 1)" text-anchor="end">7</text><text transform="translate(47.20 148.15) scale(1.060 1)" text-anchor="end">8</text><text transform="translate(47.20 110.96) scale(1.060 1)" text-anchor="end">9</text><text transform="translate(47.20 73.78) scale(1.060 1)" text-anchor="end">10</text><text transform="translate(47.20 36.60) scale(1.060 1)" text-anchor="end">11</text><text transform="translate(603.30 445.80) scale(1.060 1)" text-anchor="start">0</text><text transform="translate(603.30 404.90) scale(1.060 1)" text-anchor="start">0.05</text><text transform="translate(603.30 364.00) scale(1.060 1)" text-anchor="start">0.1</text><text transform="translate(603.30 323.10) scale(1.060 1)" text-anchor="start">0.15</text><text transform="translate(603.30 282.20) scale(1.060 1)" text-anchor="start">0.2</text><text transform="translate(603.30 241.30) scale(1.060 1)" text-anchor="start">0.25</text><text transform="translate(603.30 200.40) scale(1.060 1)" text-anchor="start">0.3</text><text transform="translate(603.30 159.50) scale(1.060 1)" text-anchor="start">0.35</text><text transform="translate(603.30 118.60) scale(1.060 1)" text-anchor="start">0.4</text><text transform="translate(603.30 77.70) scale(1.060 1)" text-anchor="start">0.45</text><text transform="translate(603.30 36.80) scale(1.060 1)" text-anchor="start">0.5</text><text transform="translate(18.70 236.20) rotate(-90) scale(0.875 1)" text-anchor="middle" font-size="17.3px">Altitude [km]</text></g>
</svg>
</body>
</html>
